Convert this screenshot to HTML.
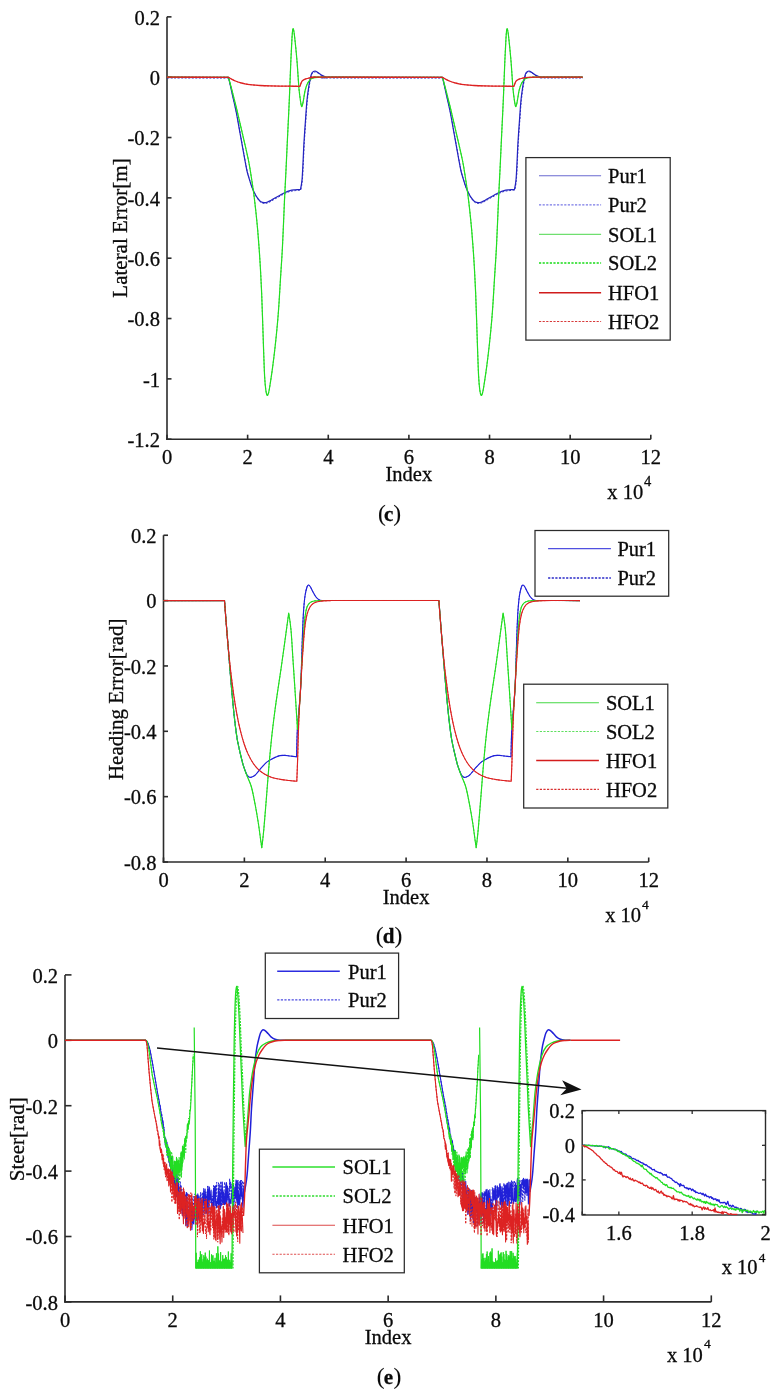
<!DOCTYPE html>
<html><head><meta charset="utf-8"><style>
html,body{margin:0;padding:0;background:#fff;}
svg{display:block;will-change:transform;}
text{font-family:"Liberation Serif", serif;fill:#0a0a0a;stroke:#0a0a0a;stroke-width:0.3px;}
</style></head><body>
<svg width="780" height="1400" viewBox="0 0 780 1400">
<rect width="780" height="1400" fill="#fff"/>
<line x1="167" y1="16.87" x2="167" y2="440" stroke="#2b2b2b" stroke-width="1.6" />
<line x1="166.2" y1="439.2" x2="650.8" y2="439.2" stroke="#2b2b2b" stroke-width="1.6" />
<line x1="167" y1="16.87" x2="171.5" y2="16.87" stroke="#2b2b2b" stroke-width="1.6" />
<text x="160" y="24.67" font-size="20.5" text-anchor="end" font-weight="normal" >0.2</text>
<line x1="167" y1="77.2" x2="171.5" y2="77.2" stroke="#2b2b2b" stroke-width="1.6" />
<text x="160" y="85" font-size="20.5" text-anchor="end" font-weight="normal" >0</text>
<line x1="167" y1="137.53" x2="171.5" y2="137.53" stroke="#2b2b2b" stroke-width="1.6" />
<text x="160" y="145.33" font-size="20.5" text-anchor="end" font-weight="normal" >-0.2</text>
<line x1="167" y1="197.87" x2="171.5" y2="197.87" stroke="#2b2b2b" stroke-width="1.6" />
<text x="160" y="205.67" font-size="20.5" text-anchor="end" font-weight="normal" >-0.4</text>
<line x1="167" y1="258.2" x2="171.5" y2="258.2" stroke="#2b2b2b" stroke-width="1.6" />
<text x="160" y="266" font-size="20.5" text-anchor="end" font-weight="normal" >-0.6</text>
<line x1="167" y1="318.54" x2="171.5" y2="318.54" stroke="#2b2b2b" stroke-width="1.6" />
<text x="160" y="326.34" font-size="20.5" text-anchor="end" font-weight="normal" >-0.8</text>
<line x1="167" y1="378.87" x2="171.5" y2="378.87" stroke="#2b2b2b" stroke-width="1.6" />
<text x="160" y="386.67" font-size="20.5" text-anchor="end" font-weight="normal" >-1</text>
<line x1="167" y1="439.2" x2="171.5" y2="439.2" stroke="#2b2b2b" stroke-width="1.6" />
<text x="160" y="447" font-size="20.5" text-anchor="end" font-weight="normal" >-1.2</text>
<line x1="167" y1="439.2" x2="167" y2="434.7" stroke="#2b2b2b" stroke-width="1.6" />
<text x="167" y="463.8" font-size="20.5" text-anchor="middle" font-weight="normal" >0</text>
<line x1="247.63" y1="439.2" x2="247.63" y2="434.7" stroke="#2b2b2b" stroke-width="1.6" />
<text x="247.63" y="463.8" font-size="20.5" text-anchor="middle" font-weight="normal" >2</text>
<line x1="328.27" y1="439.2" x2="328.27" y2="434.7" stroke="#2b2b2b" stroke-width="1.6" />
<text x="328.27" y="463.8" font-size="20.5" text-anchor="middle" font-weight="normal" >4</text>
<line x1="408.9" y1="439.2" x2="408.9" y2="434.7" stroke="#2b2b2b" stroke-width="1.6" />
<text x="408.9" y="463.8" font-size="20.5" text-anchor="middle" font-weight="normal" >6</text>
<line x1="489.53" y1="439.2" x2="489.53" y2="434.7" stroke="#2b2b2b" stroke-width="1.6" />
<text x="489.53" y="463.8" font-size="20.5" text-anchor="middle" font-weight="normal" >8</text>
<line x1="570.17" y1="439.2" x2="570.17" y2="434.7" stroke="#2b2b2b" stroke-width="1.6" />
<text x="570.17" y="463.8" font-size="20.5" text-anchor="middle" font-weight="normal" >10</text>
<line x1="650.8" y1="439.2" x2="650.8" y2="434.7" stroke="#2b2b2b" stroke-width="1.6" />
<text x="650.8" y="463.8" font-size="20.5" text-anchor="middle" font-weight="normal" >12</text>
<text transform="translate(126.5,228) rotate(-90)" font-size="21" text-anchor="middle">Lateral Error[m]</text>
<text x="408.9" y="480.8" font-size="20.5" text-anchor="middle" font-weight="normal" >Index</text>
<text x="643.2" y="498.5" font-size="20.5" text-anchor="end" font-weight="normal" >x 10</text>
<text x="644" y="486" font-size="14.5" text-anchor="start" font-weight="normal" >4</text>
<text x="377.9" y="520.8" font-size="23.5" text-anchor="start" font-weight="normal" style="stroke-width:0.1px">(</text>
<text x="384.05" y="520.8" font-size="21" text-anchor="start" font-weight="bold" >c</text>
<text x="393.3" y="520.8" font-size="23.5" text-anchor="start" font-weight="normal" style="stroke-width:0.1px">)</text>
<path d="M167,77.2 C177.25,77.22 228.5,77.3 228.5,77.3 C228.5,77.3 230.75,87.38 232,93 C233.25,98.62 234.67,104.33 236,111 C237.33,117.67 238.58,125.17 240,133 C241.42,140.83 243.33,151.67 244.5,158 C245.67,164.33 246.2,167.5 247,171 C247.8,174.5 248.55,176.5 249.3,179 C250.05,181.5 250.73,183.9 251.5,186 C252.27,188.1 253.15,189.97 253.9,191.6 C254.65,193.23 255.22,194.48 256,195.8 C256.78,197.12 257.77,198.5 258.6,199.5 C259.43,200.5 260.08,201.27 261,201.8 C261.92,202.33 263.1,202.63 264.1,202.7 C265.1,202.77 266.02,202.5 267,202.2 C267.98,201.9 268.83,201.52 270,200.9 C271.17,200.28 272.33,199.45 274,198.5 C275.67,197.55 278.17,196.2 280,195.2 C281.83,194.2 283.33,193.27 285,192.5 C286.67,191.73 288.33,191.05 290,190.6 C291.67,190.15 293.25,190.02 295,189.8 C296.75,189.58 300.5,189.3 300.5,189.3 C300.5,189.3 301.58,184.38 302,180 C302.42,175.62 302.67,169.33 303,163 C303.33,156.67 303.58,149.17 304,142 C304.42,134.83 305,127 305.5,120 C306,113 306.42,105.83 307,100 C307.58,94.17 308.42,88.75 309,85 C309.58,81.25 310,79.53 310.5,77.5 C311,75.47 311.25,73.88 312,72.8 C312.75,71.72 314,71.03 315,71 C316,70.97 316.83,71.88 318,72.6 C319.17,73.32 320.67,74.57 322,75.3 C323.33,76.03 324.67,76.68 326,77 C327.33,77.32 310.58,77.15 330,77.2 C349.42,77.25 442.5,77.3 442.5,77.3 C442.5,77.3 444.75,87.38 446,93 C447.25,98.62 448.67,104.33 450,111 C451.33,117.67 452.58,125.17 454,133 C455.42,140.83 457.33,151.67 458.5,158 C459.67,164.33 460.2,167.5 461,171 C461.8,174.5 462.55,176.5 463.3,179 C464.05,181.5 464.73,183.9 465.5,186 C466.27,188.1 467.15,189.97 467.9,191.6 C468.65,193.23 469.22,194.48 470,195.8 C470.78,197.12 471.77,198.5 472.6,199.5 C473.43,200.5 474.08,201.27 475,201.8 C475.92,202.33 477.1,202.63 478.1,202.7 C479.1,202.77 480.02,202.5 481,202.2 C481.98,201.9 482.83,201.52 484,200.9 C485.17,200.28 486.33,199.45 488,198.5 C489.67,197.55 492.17,196.2 494,195.2 C495.83,194.2 497.33,193.27 499,192.5 C500.67,191.73 502.33,191.05 504,190.6 C505.67,190.15 507.25,190.02 509,189.8 C510.75,189.58 514.5,189.3 514.5,189.3 C514.5,189.3 515.58,184.38 516,180 C516.42,175.62 516.67,169.33 517,163 C517.33,156.67 517.58,149.17 518,142 C518.42,134.83 519,127 519.5,120 C520,113 520.42,105.83 521,100 C521.58,94.17 522.42,88.75 523,85 C523.58,81.25 524,79.53 524.5,77.5 C525,75.47 525.25,73.88 526,72.8 C526.75,71.72 528,71.03 529,71 C530,70.97 530.83,71.88 532,72.6 C533.17,73.32 534.67,74.57 536,75.3 C537.33,76.03 538.67,76.68 540,77 C541.33,77.32 536.9,77.17 544,77.2 C551.1,77.23 576.17,77.2 582.6,77.2" fill="none" stroke="#2424c0" stroke-width="1.2" stroke-linejoin="round" />
<g transform="translate(0.3,0.8)">
<path d="M167,77.2 C177.25,77.22 228.5,77.3 228.5,77.3 C228.5,77.3 230.75,87.38 232,93 C233.25,98.62 234.67,104.33 236,111 C237.33,117.67 238.58,125.17 240,133 C241.42,140.83 243.33,151.67 244.5,158 C245.67,164.33 246.2,167.5 247,171 C247.8,174.5 248.55,176.5 249.3,179 C250.05,181.5 250.73,183.9 251.5,186 C252.27,188.1 253.15,189.97 253.9,191.6 C254.65,193.23 255.22,194.48 256,195.8 C256.78,197.12 257.77,198.5 258.6,199.5 C259.43,200.5 260.08,201.27 261,201.8 C261.92,202.33 263.1,202.63 264.1,202.7 C265.1,202.77 266.02,202.5 267,202.2 C267.98,201.9 268.83,201.52 270,200.9 C271.17,200.28 272.33,199.45 274,198.5 C275.67,197.55 278.17,196.2 280,195.2 C281.83,194.2 283.33,193.27 285,192.5 C286.67,191.73 288.33,191.05 290,190.6 C291.67,190.15 293.25,190.02 295,189.8 C296.75,189.58 300.5,189.3 300.5,189.3 C300.5,189.3 301.58,184.38 302,180 C302.42,175.62 302.67,169.33 303,163 C303.33,156.67 303.58,149.17 304,142 C304.42,134.83 305,127 305.5,120 C306,113 306.42,105.83 307,100 C307.58,94.17 308.42,88.75 309,85 C309.58,81.25 310,79.53 310.5,77.5 C311,75.47 311.25,73.88 312,72.8 C312.75,71.72 314,71.03 315,71 C316,70.97 316.83,71.88 318,72.6 C319.17,73.32 320.67,74.57 322,75.3 C323.33,76.03 324.67,76.68 326,77 C327.33,77.32 310.58,77.15 330,77.2 C349.42,77.25 442.5,77.3 442.5,77.3 C442.5,77.3 444.75,87.38 446,93 C447.25,98.62 448.67,104.33 450,111 C451.33,117.67 452.58,125.17 454,133 C455.42,140.83 457.33,151.67 458.5,158 C459.67,164.33 460.2,167.5 461,171 C461.8,174.5 462.55,176.5 463.3,179 C464.05,181.5 464.73,183.9 465.5,186 C466.27,188.1 467.15,189.97 467.9,191.6 C468.65,193.23 469.22,194.48 470,195.8 C470.78,197.12 471.77,198.5 472.6,199.5 C473.43,200.5 474.08,201.27 475,201.8 C475.92,202.33 477.1,202.63 478.1,202.7 C479.1,202.77 480.02,202.5 481,202.2 C481.98,201.9 482.83,201.52 484,200.9 C485.17,200.28 486.33,199.45 488,198.5 C489.67,197.55 492.17,196.2 494,195.2 C495.83,194.2 497.33,193.27 499,192.5 C500.67,191.73 502.33,191.05 504,190.6 C505.67,190.15 507.25,190.02 509,189.8 C510.75,189.58 514.5,189.3 514.5,189.3 C514.5,189.3 515.58,184.38 516,180 C516.42,175.62 516.67,169.33 517,163 C517.33,156.67 517.58,149.17 518,142 C518.42,134.83 519,127 519.5,120 C520,113 520.42,105.83 521,100 C521.58,94.17 522.42,88.75 523,85 C523.58,81.25 524,79.53 524.5,77.5 C525,75.47 525.25,73.88 526,72.8 C526.75,71.72 528,71.03 529,71 C530,70.97 530.83,71.88 532,72.6 C533.17,73.32 534.67,74.57 536,75.3 C537.33,76.03 538.67,76.68 540,77 C541.33,77.32 536.9,77.17 544,77.2 C551.1,77.23 576.17,77.2 582.6,77.2" fill="none" stroke="#2424c0" stroke-width="0.9" stroke-linejoin="round" stroke-dasharray="2,1.5" />
</g>
<path d="M167,77.2 C177.25,77.22 228.5,77.3 228.5,77.3 C228.5,77.3 231.1,87.05 232.5,92.5 C233.9,97.95 235.23,103.08 236.9,110 C238.57,116.92 240.58,125.67 242.5,134 C244.42,142.33 246.93,152.83 248.4,160 C249.87,167.17 250.4,171.33 251.3,177 C252.2,182.67 253.03,188.17 253.8,194 C254.57,199.83 255.27,206.17 255.9,212 C256.53,217.83 257.07,223 257.6,229 C258.13,235 258.63,241.5 259.1,248 C259.57,254.5 259.98,260.67 260.4,268 C260.82,275.33 261.23,283.33 261.6,292 C261.97,300.67 262.27,310.33 262.6,320 C262.93,329.67 263.27,340.67 263.6,350 C263.93,359.33 264.23,369.33 264.6,376 C264.97,382.67 265.38,386.78 265.8,390 C266.22,393.22 266.67,394.72 267.1,395.3 C267.53,395.88 267.97,394.88 268.4,393.5 C268.83,392.12 269.02,391.22 269.7,387 C270.38,382.78 271.57,375.2 272.5,368.2 C273.43,361.2 274.45,352.73 275.3,345 C276.15,337.27 276.98,328.77 277.6,321.8 C278.22,314.83 278.53,310.17 279,303.2 C279.47,296.23 279.82,289.53 280.4,280 C280.98,270.47 281.82,259.33 282.5,246 C283.18,232.67 283.92,212.67 284.5,200 C285.08,187.33 285.52,180 286,170 C286.48,160 286.85,151.67 287.4,140 C287.95,128.33 288.73,113 289.3,100 C289.87,87 290.35,72.33 290.8,62 C291.25,51.67 291.65,43.5 292,38 C292.35,32.5 292.57,30 292.9,29 C293.23,28 293.57,29.33 294,32 C294.43,34.67 295,40.17 295.5,45 C296,49.83 296.58,56 297,61 C297.42,66 297.67,70.33 298,75 C298.33,79.67 298.58,84.67 299,89 C299.42,93.33 300.07,98.08 300.5,101 C300.93,103.92 301.23,106 301.6,106.5 C301.97,107 302.33,105.42 302.7,104 C303.07,102.58 303.42,100.17 303.8,98 C304.18,95.83 304.47,93.25 305,91 C305.53,88.75 306.17,86.37 307,84.5 C307.83,82.63 309,80.88 310,79.8 C311,78.72 311.67,78.42 313,78 C314.33,77.58 316.17,77.43 318,77.3 C319.83,77.17 303.25,77.2 324,77.2 C344.75,77.2 442.5,77.3 442.5,77.3 C442.5,77.3 445.1,87.05 446.5,92.5 C447.9,97.95 449.23,103.08 450.9,110 C452.57,116.92 454.58,125.67 456.5,134 C458.42,142.33 460.93,152.83 462.4,160 C463.87,167.17 464.4,171.33 465.3,177 C466.2,182.67 467.03,188.17 467.8,194 C468.57,199.83 469.27,206.17 469.9,212 C470.53,217.83 471.07,223 471.6,229 C472.13,235 472.63,241.5 473.1,248 C473.57,254.5 473.98,260.67 474.4,268 C474.82,275.33 475.23,283.33 475.6,292 C475.97,300.67 476.27,310.33 476.6,320 C476.93,329.67 477.27,340.67 477.6,350 C477.93,359.33 478.23,369.33 478.6,376 C478.97,382.67 479.38,386.78 479.8,390 C480.22,393.22 480.67,394.72 481.1,395.3 C481.53,395.88 481.97,394.88 482.4,393.5 C482.83,392.12 483.02,391.22 483.7,387 C484.38,382.78 485.57,375.2 486.5,368.2 C487.43,361.2 488.45,352.73 489.3,345 C490.15,337.27 490.98,328.77 491.6,321.8 C492.22,314.83 492.53,310.17 493,303.2 C493.47,296.23 493.82,289.53 494.4,280 C494.98,270.47 495.82,259.33 496.5,246 C497.18,232.67 497.92,212.67 498.5,200 C499.08,187.33 499.52,180 500,170 C500.48,160 500.85,151.67 501.4,140 C501.95,128.33 502.73,113 503.3,100 C503.87,87 504.35,72.33 504.8,62 C505.25,51.67 505.65,43.5 506,38 C506.35,32.5 506.57,30 506.9,29 C507.23,28 507.57,29.33 508,32 C508.43,34.67 509,40.17 509.5,45 C510,49.83 510.58,56 511,61 C511.42,66 511.67,70.33 512,75 C512.33,79.67 512.58,84.67 513,89 C513.42,93.33 514.07,98.08 514.5,101 C514.93,103.92 515.23,106 515.6,106.5 C515.97,107 516.33,105.42 516.7,104 C517.07,102.58 517.42,100.17 517.8,98 C518.18,95.83 518.47,93.25 519,91 C519.53,88.75 520.17,86.37 521,84.5 C521.83,82.63 523,80.88 524,79.8 C525,78.72 525.67,78.42 527,78 C528.33,77.58 530.17,77.43 532,77.3 C533.83,77.17 529.57,77.22 538,77.2 C546.43,77.18 575.17,77.2 582.6,77.2" fill="none" stroke="#22dd22" stroke-width="1.2" stroke-linejoin="round" />
<path d="M167,77.2 C177.25,77.22 228.5,77.3 228.5,77.3 C228.5,77.3 231.1,87.05 232.5,92.5 C233.9,97.95 235.23,103.08 236.9,110 C238.57,116.92 240.58,125.67 242.5,134 C244.42,142.33 246.93,152.83 248.4,160 C249.87,167.17 250.4,171.33 251.3,177 C252.2,182.67 253.03,188.17 253.8,194 C254.57,199.83 255.27,206.17 255.9,212 C256.53,217.83 257.07,223 257.6,229 C258.13,235 258.63,241.5 259.1,248 C259.57,254.5 259.98,260.67 260.4,268 C260.82,275.33 261.23,283.33 261.6,292 C261.97,300.67 262.27,310.33 262.6,320 C262.93,329.67 263.27,340.67 263.6,350 C263.93,359.33 264.23,369.33 264.6,376 C264.97,382.67 265.38,386.78 265.8,390 C266.22,393.22 266.67,394.72 267.1,395.3 C267.53,395.88 267.97,394.88 268.4,393.5 C268.83,392.12 269.02,391.22 269.7,387 C270.38,382.78 271.57,375.2 272.5,368.2 C273.43,361.2 274.45,352.73 275.3,345 C276.15,337.27 276.98,328.77 277.6,321.8 C278.22,314.83 278.53,310.17 279,303.2 C279.47,296.23 279.82,289.53 280.4,280 C280.98,270.47 281.82,259.33 282.5,246 C283.18,232.67 283.92,212.67 284.5,200 C285.08,187.33 285.52,180 286,170 C286.48,160 286.85,151.67 287.4,140 C287.95,128.33 288.73,113 289.3,100 C289.87,87 290.35,72.33 290.8,62 C291.25,51.67 291.65,43.5 292,38 C292.35,32.5 292.57,30 292.9,29 C293.23,28 293.57,29.33 294,32 C294.43,34.67 295,40.17 295.5,45 C296,49.83 296.58,56 297,61 C297.42,66 297.67,70.33 298,75 C298.33,79.67 298.58,84.67 299,89 C299.42,93.33 300.07,98.08 300.5,101 C300.93,103.92 301.23,106 301.6,106.5 C301.97,107 302.33,105.42 302.7,104 C303.07,102.58 303.42,100.17 303.8,98 C304.18,95.83 304.47,93.25 305,91 C305.53,88.75 306.17,86.37 307,84.5 C307.83,82.63 309,80.88 310,79.8 C311,78.72 311.67,78.42 313,78 C314.33,77.58 316.17,77.43 318,77.3 C319.83,77.17 303.25,77.2 324,77.2 C344.75,77.2 442.5,77.3 442.5,77.3 C442.5,77.3 445.1,87.05 446.5,92.5 C447.9,97.95 449.23,103.08 450.9,110 C452.57,116.92 454.58,125.67 456.5,134 C458.42,142.33 460.93,152.83 462.4,160 C463.87,167.17 464.4,171.33 465.3,177 C466.2,182.67 467.03,188.17 467.8,194 C468.57,199.83 469.27,206.17 469.9,212 C470.53,217.83 471.07,223 471.6,229 C472.13,235 472.63,241.5 473.1,248 C473.57,254.5 473.98,260.67 474.4,268 C474.82,275.33 475.23,283.33 475.6,292 C475.97,300.67 476.27,310.33 476.6,320 C476.93,329.67 477.27,340.67 477.6,350 C477.93,359.33 478.23,369.33 478.6,376 C478.97,382.67 479.38,386.78 479.8,390 C480.22,393.22 480.67,394.72 481.1,395.3 C481.53,395.88 481.97,394.88 482.4,393.5 C482.83,392.12 483.02,391.22 483.7,387 C484.38,382.78 485.57,375.2 486.5,368.2 C487.43,361.2 488.45,352.73 489.3,345 C490.15,337.27 490.98,328.77 491.6,321.8 C492.22,314.83 492.53,310.17 493,303.2 C493.47,296.23 493.82,289.53 494.4,280 C494.98,270.47 495.82,259.33 496.5,246 C497.18,232.67 497.92,212.67 498.5,200 C499.08,187.33 499.52,180 500,170 C500.48,160 500.85,151.67 501.4,140 C501.95,128.33 502.73,113 503.3,100 C503.87,87 504.35,72.33 504.8,62 C505.25,51.67 505.65,43.5 506,38 C506.35,32.5 506.57,30 506.9,29 C507.23,28 507.57,29.33 508,32 C508.43,34.67 509,40.17 509.5,45 C510,49.83 510.58,56 511,61 C511.42,66 511.67,70.33 512,75 C512.33,79.67 512.58,84.67 513,89 C513.42,93.33 514.07,98.08 514.5,101 C514.93,103.92 515.23,106 515.6,106.5 C515.97,107 516.33,105.42 516.7,104 C517.07,102.58 517.42,100.17 517.8,98 C518.18,95.83 518.47,93.25 519,91 C519.53,88.75 520.17,86.37 521,84.5 C521.83,82.63 523,80.88 524,79.8 C525,78.72 525.67,78.42 527,78 C528.33,77.58 530.17,77.43 532,77.3 C533.83,77.17 529.57,77.22 538,77.2 C546.43,77.18 575.17,77.2 582.6,77.2" fill="none" stroke="#22dd22" stroke-width="0.9" stroke-linejoin="round" stroke-dasharray="2,1.5" />
<path d="M167,77.2 C177.25,77.22 228.5,77.3 228.5,77.3 C228.5,77.3 230.75,78.77 232,79.42 C233.25,80.08 234.67,80.72 236,81.25 C237.33,81.77 238.5,82.16 240,82.58 C241.5,83.01 243.33,83.44 245,83.77 C246.67,84.1 248.33,84.35 250,84.58 C251.67,84.8 253.33,84.97 255,85.13 C256.67,85.28 257.5,85.37 260,85.5 C262.5,85.64 266.67,85.83 270,85.93 C273.33,86.03 276.67,86.08 280,86.13 C283.33,86.18 286.67,86.19 290,86.22 C293.33,86.25 300,86.3 300,86.3 C300,86.3 301.17,82.38 302,81.2 C302.83,80.02 303.67,79.77 305,79.2 C306.33,78.63 308.33,78.11 310,77.8 C311.67,77.49 313,77.45 315,77.35 C317,77.25 300.75,77.21 322,77.2 C343.25,77.19 442.5,77.3 442.5,77.3 C442.5,77.3 444.75,78.77 446,79.42 C447.25,80.08 448.67,80.72 450,81.25 C451.33,81.77 452.5,82.16 454,82.58 C455.5,83.01 457.33,83.44 459,83.77 C460.67,84.1 462.33,84.35 464,84.58 C465.67,84.8 467.33,84.97 469,85.13 C470.67,85.28 471.5,85.37 474,85.5 C476.5,85.64 480.67,85.83 484,85.93 C487.33,86.03 490.67,86.08 494,86.13 C497.33,86.18 500.67,86.19 504,86.22 C507.33,86.25 514,86.3 514,86.3 C514,86.3 515.17,82.38 516,81.2 C516.83,80.02 517.67,79.77 519,79.2 C520.33,78.63 522.33,78.11 524,77.8 C525.67,77.49 527,77.45 529,77.35 C531,77.25 527.07,77.22 536,77.2 C544.93,77.18 574.83,77.2 582.6,77.2" fill="none" stroke="#dd2222" stroke-width="1.3" stroke-linejoin="round" />
<path d="M167,77.2 C177.25,77.22 228.5,77.3 228.5,77.3 C228.5,77.3 230.75,78.77 232,79.42 C233.25,80.08 234.67,80.72 236,81.25 C237.33,81.77 238.5,82.16 240,82.58 C241.5,83.01 243.33,83.44 245,83.77 C246.67,84.1 248.33,84.35 250,84.58 C251.67,84.8 253.33,84.97 255,85.13 C256.67,85.28 257.5,85.37 260,85.5 C262.5,85.64 266.67,85.83 270,85.93 C273.33,86.03 276.67,86.08 280,86.13 C283.33,86.18 286.67,86.19 290,86.22 C293.33,86.25 300,86.3 300,86.3 C300,86.3 301.17,82.38 302,81.2 C302.83,80.02 303.67,79.77 305,79.2 C306.33,78.63 308.33,78.11 310,77.8 C311.67,77.49 313,77.45 315,77.35 C317,77.25 300.75,77.21 322,77.2 C343.25,77.19 442.5,77.3 442.5,77.3 C442.5,77.3 444.75,78.77 446,79.42 C447.25,80.08 448.67,80.72 450,81.25 C451.33,81.77 452.5,82.16 454,82.58 C455.5,83.01 457.33,83.44 459,83.77 C460.67,84.1 462.33,84.35 464,84.58 C465.67,84.8 467.33,84.97 469,85.13 C470.67,85.28 471.5,85.37 474,85.5 C476.5,85.64 480.67,85.83 484,85.93 C487.33,86.03 490.67,86.08 494,86.13 C497.33,86.18 500.67,86.19 504,86.22 C507.33,86.25 514,86.3 514,86.3 C514,86.3 515.17,82.38 516,81.2 C516.83,80.02 517.67,79.77 519,79.2 C520.33,78.63 522.33,78.11 524,77.8 C525.67,77.49 527,77.45 529,77.35 C531,77.25 527.07,77.22 536,77.2 C544.93,77.18 574.83,77.2 582.6,77.2" fill="none" stroke="#dd2222" stroke-width="0.9" stroke-linejoin="round" stroke-dasharray="2,1.5" />
<rect x="525.9" y="157.6" width="144.3" height="182.5" fill="white" stroke="#2b2b2b" stroke-width="1.25"/>
<line x1="539" y1="175.7" x2="601.1" y2="175.7" stroke="#6a6ad0" stroke-width="1.1" />
<text x="608" y="183.1" font-size="20.5" text-anchor="start" font-weight="normal" >Pur1</text>
<line x1="539" y1="204.9" x2="601.1" y2="204.9" stroke="#7a7ae6" stroke-width="1.2" stroke-dasharray="2.2,1.4"/>
<text x="608" y="212.3" font-size="20.5" text-anchor="start" font-weight="normal" >Pur2</text>
<line x1="539" y1="234.3" x2="601.1" y2="234.3" stroke="#4cd84c" stroke-width="1.0" />
<text x="608" y="241.7" font-size="20.5" text-anchor="start" font-weight="normal" >SOL1</text>
<line x1="539" y1="262.9" x2="601.1" y2="262.9" stroke="#18dc18" stroke-width="1.5" stroke-dasharray="2.2,1.4"/>
<text x="608" y="270.3" font-size="20.5" text-anchor="start" font-weight="normal" >SOL2</text>
<line x1="539" y1="292.8" x2="601.1" y2="292.8" stroke="#d01c1c" stroke-width="1.4" />
<text x="608" y="300.2" font-size="20.5" text-anchor="start" font-weight="normal" >HFO1</text>
<line x1="539" y1="321.5" x2="601.1" y2="321.5" stroke="#d83a3a" stroke-width="1.2" stroke-dasharray="2.2,1.4"/>
<text x="608" y="328.9" font-size="20.5" text-anchor="start" font-weight="normal" >HFO2</text>
<line x1="163.5" y1="535.25" x2="163.5" y2="862.8" stroke="#2b2b2b" stroke-width="1.6" />
<line x1="162.7" y1="862" x2="648.7" y2="862" stroke="#2b2b2b" stroke-width="1.6" />
<line x1="163.5" y1="535.25" x2="168" y2="535.25" stroke="#2b2b2b" stroke-width="1.6" />
<text x="156.5" y="543.05" font-size="20.5" text-anchor="end" font-weight="normal" >0.2</text>
<line x1="163.5" y1="600.6" x2="168" y2="600.6" stroke="#2b2b2b" stroke-width="1.6" />
<text x="156.5" y="608.4" font-size="20.5" text-anchor="end" font-weight="normal" >0</text>
<line x1="163.5" y1="665.95" x2="168" y2="665.95" stroke="#2b2b2b" stroke-width="1.6" />
<text x="156.5" y="673.75" font-size="20.5" text-anchor="end" font-weight="normal" >-0.2</text>
<line x1="163.5" y1="731.3" x2="168" y2="731.3" stroke="#2b2b2b" stroke-width="1.6" />
<text x="156.5" y="739.1" font-size="20.5" text-anchor="end" font-weight="normal" >-0.4</text>
<line x1="163.5" y1="796.65" x2="168" y2="796.65" stroke="#2b2b2b" stroke-width="1.6" />
<text x="156.5" y="804.45" font-size="20.5" text-anchor="end" font-weight="normal" >-0.6</text>
<line x1="163.5" y1="862" x2="168" y2="862" stroke="#2b2b2b" stroke-width="1.6" />
<text x="156.5" y="869.8" font-size="20.5" text-anchor="end" font-weight="normal" >-0.8</text>
<line x1="163.5" y1="862" x2="163.5" y2="857.5" stroke="#2b2b2b" stroke-width="1.6" />
<text x="163.5" y="887.1" font-size="20.5" text-anchor="middle" font-weight="normal" >0</text>
<line x1="244.37" y1="862" x2="244.37" y2="857.5" stroke="#2b2b2b" stroke-width="1.6" />
<text x="244.37" y="887.1" font-size="20.5" text-anchor="middle" font-weight="normal" >2</text>
<line x1="325.23" y1="862" x2="325.23" y2="857.5" stroke="#2b2b2b" stroke-width="1.6" />
<text x="325.23" y="887.1" font-size="20.5" text-anchor="middle" font-weight="normal" >4</text>
<line x1="406.1" y1="862" x2="406.1" y2="857.5" stroke="#2b2b2b" stroke-width="1.6" />
<text x="406.1" y="887.1" font-size="20.5" text-anchor="middle" font-weight="normal" >6</text>
<line x1="486.97" y1="862" x2="486.97" y2="857.5" stroke="#2b2b2b" stroke-width="1.6" />
<text x="486.97" y="887.1" font-size="20.5" text-anchor="middle" font-weight="normal" >8</text>
<line x1="567.83" y1="862" x2="567.83" y2="857.5" stroke="#2b2b2b" stroke-width="1.6" />
<text x="567.83" y="887.1" font-size="20.5" text-anchor="middle" font-weight="normal" >10</text>
<line x1="648.7" y1="862" x2="648.7" y2="857.5" stroke="#2b2b2b" stroke-width="1.6" />
<text x="648.7" y="887.1" font-size="20.5" text-anchor="middle" font-weight="normal" >12</text>
<text transform="translate(122.5,699.3) rotate(-90)" font-size="21" text-anchor="middle">Heading Error[rad]</text>
<text x="406.1" y="903.5" font-size="20.5" text-anchor="middle" font-weight="normal" >Index</text>
<text x="641" y="921.9" font-size="20.5" text-anchor="end" font-weight="normal" >x 10</text>
<text x="642" y="908.6" font-size="13.5" text-anchor="start" font-weight="normal" >4</text>
<text x="375.8" y="943.3" font-size="23.5" text-anchor="start" font-weight="normal" style="stroke-width:0.1px">(</text>
<text x="382.75" y="943.3" font-size="21" text-anchor="start" font-weight="bold" >d</text>
<text x="394.6" y="943.3" font-size="23.5" text-anchor="start" font-weight="normal" style="stroke-width:0.1px">)</text>
<path d="M163.5,600.6 C173.67,600.58 224.5,600.5 224.5,600.5 C224.5,600.5 225.42,612.58 226,620 C226.58,627.42 227.33,636.67 228,645 C228.67,653.33 229.38,662.5 230,670 C230.62,677.5 231.17,684 231.7,690 C232.23,696 232.7,700.95 233.2,706 C233.7,711.05 234.05,714.88 234.7,720.3 C235.35,725.72 236.18,733.03 237.1,738.5 C238.02,743.97 239.18,748.65 240.2,753.1 C241.22,757.55 242.2,761.85 243.2,765.2 C244.2,768.55 245.4,771.37 246.2,773.2 C247,775.03 247.37,775.5 248,776.2 C248.63,776.9 249.25,777.3 250,777.4 C250.75,777.5 251.62,777.2 252.5,776.8 C253.38,776.4 254.38,775.83 255.3,775 C256.22,774.17 256.98,773.02 258,771.8 C259.02,770.58 260.32,768.95 261.4,767.7 C262.48,766.45 263.48,765.32 264.5,764.3 C265.52,763.28 266.33,762.45 267.5,761.6 C268.67,760.75 270.25,759.9 271.5,759.2 C272.75,758.5 273.58,758 275,757.4 C276.42,756.8 278.33,755.93 280,755.6 C281.67,755.27 283.33,755.33 285,755.4 C286.67,755.47 288.07,755.77 290,756 C291.93,756.23 296.6,756.8 296.6,756.8 C296.6,756.8 296.98,737.97 297.3,731 C297.62,724.03 298.08,720.17 298.5,715 C298.92,709.83 299.42,705 299.8,700 C300.18,695 300.5,691.33 300.8,685 C301.1,678.67 301.32,670.5 301.6,662 C301.88,653.5 302.18,642.33 302.5,634 C302.82,625.67 303.08,618.33 303.5,612 C303.92,605.67 304.42,600.17 305,596 C305.58,591.83 306.4,588.83 307,587 C307.6,585.17 308.02,585 308.6,585 C309.18,585 309.77,585.83 310.5,587 C311.23,588.17 312.08,590.33 313,592 C313.92,593.67 315,595.7 316,597 C317,598.3 318,599.22 319,599.8 C320,600.38 320.17,600.38 322,600.5 C323.83,600.62 310.52,600.5 330,600.5 C349.48,600.5 438.9,600.5 438.9,600.5 C438.9,600.5 439.82,612.58 440.4,620 C440.98,627.42 441.73,636.67 442.4,645 C443.07,653.33 443.78,662.5 444.4,670 C445.02,677.5 445.57,684 446.1,690 C446.63,696 447.1,700.95 447.6,706 C448.1,711.05 448.45,714.88 449.1,720.3 C449.75,725.72 450.58,733.03 451.5,738.5 C452.42,743.97 453.58,748.65 454.6,753.1 C455.62,757.55 456.6,761.85 457.6,765.2 C458.6,768.55 459.8,771.37 460.6,773.2 C461.4,775.03 461.77,775.5 462.4,776.2 C463.03,776.9 463.65,777.3 464.4,777.4 C465.15,777.5 466.02,777.2 466.9,776.8 C467.78,776.4 468.78,775.83 469.7,775 C470.62,774.17 471.38,773.02 472.4,771.8 C473.42,770.58 474.72,768.95 475.8,767.7 C476.88,766.45 477.88,765.32 478.9,764.3 C479.92,763.28 480.73,762.45 481.9,761.6 C483.07,760.75 484.65,759.9 485.9,759.2 C487.15,758.5 487.98,758 489.4,757.4 C490.82,756.8 492.73,755.93 494.4,755.6 C496.07,755.27 497.73,755.33 499.4,755.4 C501.07,755.47 502.47,755.77 504.4,756 C506.33,756.23 511,756.8 511,756.8 C511,756.8 511.38,737.97 511.7,731 C512.02,724.03 512.48,720.17 512.9,715 C513.32,709.83 513.82,705 514.2,700 C514.58,695 514.9,691.33 515.2,685 C515.5,678.67 515.72,670.5 516,662 C516.28,653.5 516.58,642.33 516.9,634 C517.22,625.67 517.48,618.33 517.9,612 C518.32,605.67 518.82,600.17 519.4,596 C519.98,591.83 520.8,588.83 521.4,587 C522,585.17 522.42,585 523,585 C523.58,585 524.17,585.83 524.9,587 C525.63,588.17 526.48,590.33 527.4,592 C528.32,593.67 529.4,595.7 530.4,597 C531.4,598.3 532.4,599.22 533.4,599.8 C534.4,600.38 534.57,600.38 536.4,600.5 C538.23,600.62 537.13,600.48 544.4,600.5 C551.67,600.52 574.07,600.58 580,600.6" fill="none" stroke="#2020d8" stroke-width="1.15" stroke-linejoin="round" />
<path d="M163.5,600.6 C173.67,600.58 224.5,600.5 224.5,600.5 C224.5,600.5 225.42,612.58 226,620 C226.58,627.42 227.33,636.67 228,645 C228.67,653.33 229.38,662.5 230,670 C230.62,677.5 231.17,684 231.7,690 C232.23,696 232.7,700.95 233.2,706 C233.7,711.05 234.05,714.88 234.7,720.3 C235.35,725.72 236.18,733.03 237.1,738.5 C238.02,743.97 239.18,748.65 240.2,753.1 C241.22,757.55 242.2,761.85 243.2,765.2 C244.2,768.55 245.4,771.37 246.2,773.2 C247,775.03 247.37,775.5 248,776.2 C248.63,776.9 249.25,777.3 250,777.4 C250.75,777.5 251.62,777.2 252.5,776.8 C253.38,776.4 254.38,775.83 255.3,775 C256.22,774.17 256.98,773.02 258,771.8 C259.02,770.58 260.32,768.95 261.4,767.7 C262.48,766.45 263.48,765.32 264.5,764.3 C265.52,763.28 266.33,762.45 267.5,761.6 C268.67,760.75 270.25,759.9 271.5,759.2 C272.75,758.5 273.58,758 275,757.4 C276.42,756.8 278.33,755.93 280,755.6 C281.67,755.27 283.33,755.33 285,755.4 C286.67,755.47 288.07,755.77 290,756 C291.93,756.23 296.6,756.8 296.6,756.8 C296.6,756.8 296.98,737.97 297.3,731 C297.62,724.03 298.08,720.17 298.5,715 C298.92,709.83 299.42,705 299.8,700 C300.18,695 300.5,691.33 300.8,685 C301.1,678.67 301.32,670.5 301.6,662 C301.88,653.5 302.18,642.33 302.5,634 C302.82,625.67 303.08,618.33 303.5,612 C303.92,605.67 304.42,600.17 305,596 C305.58,591.83 306.4,588.83 307,587 C307.6,585.17 308.02,585 308.6,585 C309.18,585 309.77,585.83 310.5,587 C311.23,588.17 312.08,590.33 313,592 C313.92,593.67 315,595.7 316,597 C317,598.3 318,599.22 319,599.8 C320,600.38 320.17,600.38 322,600.5 C323.83,600.62 310.52,600.5 330,600.5 C349.48,600.5 438.9,600.5 438.9,600.5 C438.9,600.5 439.82,612.58 440.4,620 C440.98,627.42 441.73,636.67 442.4,645 C443.07,653.33 443.78,662.5 444.4,670 C445.02,677.5 445.57,684 446.1,690 C446.63,696 447.1,700.95 447.6,706 C448.1,711.05 448.45,714.88 449.1,720.3 C449.75,725.72 450.58,733.03 451.5,738.5 C452.42,743.97 453.58,748.65 454.6,753.1 C455.62,757.55 456.6,761.85 457.6,765.2 C458.6,768.55 459.8,771.37 460.6,773.2 C461.4,775.03 461.77,775.5 462.4,776.2 C463.03,776.9 463.65,777.3 464.4,777.4 C465.15,777.5 466.02,777.2 466.9,776.8 C467.78,776.4 468.78,775.83 469.7,775 C470.62,774.17 471.38,773.02 472.4,771.8 C473.42,770.58 474.72,768.95 475.8,767.7 C476.88,766.45 477.88,765.32 478.9,764.3 C479.92,763.28 480.73,762.45 481.9,761.6 C483.07,760.75 484.65,759.9 485.9,759.2 C487.15,758.5 487.98,758 489.4,757.4 C490.82,756.8 492.73,755.93 494.4,755.6 C496.07,755.27 497.73,755.33 499.4,755.4 C501.07,755.47 502.47,755.77 504.4,756 C506.33,756.23 511,756.8 511,756.8 C511,756.8 511.38,737.97 511.7,731 C512.02,724.03 512.48,720.17 512.9,715 C513.32,709.83 513.82,705 514.2,700 C514.58,695 514.9,691.33 515.2,685 C515.5,678.67 515.72,670.5 516,662 C516.28,653.5 516.58,642.33 516.9,634 C517.22,625.67 517.48,618.33 517.9,612 C518.32,605.67 518.82,600.17 519.4,596 C519.98,591.83 520.8,588.83 521.4,587 C522,585.17 522.42,585 523,585 C523.58,585 524.17,585.83 524.9,587 C525.63,588.17 526.48,590.33 527.4,592 C528.32,593.67 529.4,595.7 530.4,597 C531.4,598.3 532.4,599.22 533.4,599.8 C534.4,600.38 534.57,600.38 536.4,600.5 C538.23,600.62 537.13,600.48 544.4,600.5 C551.67,600.52 574.07,600.58 580,600.6" fill="none" stroke="#2020d8" stroke-width="0.9" stroke-linejoin="round" stroke-dasharray="2,1.5" />
<path d="M163.5,600.6 C173.67,600.58 224.5,600.5 224.5,600.5 C224.5,600.5 225.42,612.58 226,620 C226.58,627.42 227.33,636.67 228,645 C228.67,653.33 229.38,662.5 230,670 C230.62,677.5 231.17,684 231.7,690 C232.23,696 232.7,700.95 233.2,706 C233.7,711.05 234.05,714.88 234.7,720.3 C235.35,725.72 236.18,733.03 237.1,738.5 C238.02,743.97 239.18,748.65 240.2,753.1 C241.22,757.55 242.2,761.73 243.2,765.2 C244.2,768.67 245.23,771.35 246.2,773.9 C247.17,776.45 248.08,778.15 249,780.5 C249.92,782.85 250.65,783.87 251.7,788 C252.75,792.13 254.18,799.38 255.3,805.3 C256.42,811.22 257.48,817.55 258.4,823.5 C259.32,829.45 260.23,836.95 260.8,841 C261.37,845.05 261.8,847.8 261.8,847.8 C261.8,847.8 263.05,837.7 263.8,829.6 C264.55,821.5 265.48,809.32 266.3,799.2 C267.12,789.08 267.8,779.27 268.7,768.9 C269.6,758.53 270.65,746.82 271.7,737 C272.75,727.18 273.95,718 275,710 C276.05,702 277,695.83 278,689 C279,682.17 279.92,676.5 281,669 C282.08,661.5 283.22,653.33 284.5,644 C285.78,634.67 288.7,613 288.7,613 C288.7,613 290.28,622.17 291,630 C291.72,637.83 292.33,650 293,660 C293.67,670 294.25,678.42 295,690 C295.75,701.58 297.5,729.5 297.5,729.5 C297.5,729.5 298.5,718.58 299,712 C299.5,705.42 300,698.67 300.5,690 C301,681.33 301.5,669.17 302,660 C302.5,650.83 303,642.17 303.5,635 C304,627.83 304.42,621.67 305,617 C305.58,612.33 306.17,609.4 307,607 C307.83,604.6 308.83,603.6 310,602.6 C311.17,601.6 312.33,601.33 314,601 C315.67,600.67 317.33,600.68 320,600.6 C322.67,600.52 310.18,600.52 330,600.5 C349.82,600.48 438.9,600.5 438.9,600.5 C438.9,600.5 439.82,612.58 440.4,620 C440.98,627.42 441.73,636.67 442.4,645 C443.07,653.33 443.78,662.5 444.4,670 C445.02,677.5 445.57,684 446.1,690 C446.63,696 447.1,700.95 447.6,706 C448.1,711.05 448.45,714.88 449.1,720.3 C449.75,725.72 450.58,733.03 451.5,738.5 C452.42,743.97 453.58,748.65 454.6,753.1 C455.62,757.55 456.6,761.73 457.6,765.2 C458.6,768.67 459.63,771.35 460.6,773.9 C461.57,776.45 462.48,778.15 463.4,780.5 C464.32,782.85 465.05,783.87 466.1,788 C467.15,792.13 468.58,799.38 469.7,805.3 C470.82,811.22 471.88,817.55 472.8,823.5 C473.72,829.45 474.63,836.95 475.2,841 C475.77,845.05 476.2,847.8 476.2,847.8 C476.2,847.8 477.45,837.7 478.2,829.6 C478.95,821.5 479.88,809.32 480.7,799.2 C481.52,789.08 482.2,779.27 483.1,768.9 C484,758.53 485.05,746.82 486.1,737 C487.15,727.18 488.35,718 489.4,710 C490.45,702 491.4,695.83 492.4,689 C493.4,682.17 494.32,676.5 495.4,669 C496.48,661.5 497.62,653.33 498.9,644 C500.18,634.67 503.1,613 503.1,613 C503.1,613 504.68,622.17 505.4,630 C506.12,637.83 506.73,650 507.4,660 C508.07,670 508.65,678.42 509.4,690 C510.15,701.58 511.9,729.5 511.9,729.5 C511.9,729.5 512.9,718.58 513.4,712 C513.9,705.42 514.4,698.67 514.9,690 C515.4,681.33 515.9,669.17 516.4,660 C516.9,650.83 517.4,642.17 517.9,635 C518.4,627.83 518.82,621.67 519.4,617 C519.98,612.33 520.57,609.4 521.4,607 C522.23,604.6 523.23,603.6 524.4,602.6 C525.57,601.6 526.73,601.33 528.4,601 C530.07,600.67 531.73,600.68 534.4,600.6 C537.07,600.52 536.8,600.5 544.4,600.5 C552,600.5 574.07,600.58 580,600.6" fill="none" stroke="#22dd22" stroke-width="1.15" stroke-linejoin="round" />
<path d="M163.5,600.6 C173.67,600.58 224.5,600.5 224.5,600.5 C224.5,600.5 225.42,612.58 226,620 C226.58,627.42 227.33,636.67 228,645 C228.67,653.33 229.38,662.5 230,670 C230.62,677.5 231.17,684 231.7,690 C232.23,696 232.7,700.95 233.2,706 C233.7,711.05 234.05,714.88 234.7,720.3 C235.35,725.72 236.18,733.03 237.1,738.5 C238.02,743.97 239.18,748.65 240.2,753.1 C241.22,757.55 242.2,761.73 243.2,765.2 C244.2,768.67 245.23,771.35 246.2,773.9 C247.17,776.45 248.08,778.15 249,780.5 C249.92,782.85 250.65,783.87 251.7,788 C252.75,792.13 254.18,799.38 255.3,805.3 C256.42,811.22 257.48,817.55 258.4,823.5 C259.32,829.45 260.23,836.95 260.8,841 C261.37,845.05 261.8,847.8 261.8,847.8 C261.8,847.8 263.05,837.7 263.8,829.6 C264.55,821.5 265.48,809.32 266.3,799.2 C267.12,789.08 267.8,779.27 268.7,768.9 C269.6,758.53 270.65,746.82 271.7,737 C272.75,727.18 273.95,718 275,710 C276.05,702 277,695.83 278,689 C279,682.17 279.92,676.5 281,669 C282.08,661.5 283.22,653.33 284.5,644 C285.78,634.67 288.7,613 288.7,613 C288.7,613 290.28,622.17 291,630 C291.72,637.83 292.33,650 293,660 C293.67,670 294.25,678.42 295,690 C295.75,701.58 297.5,729.5 297.5,729.5 C297.5,729.5 298.5,718.58 299,712 C299.5,705.42 300,698.67 300.5,690 C301,681.33 301.5,669.17 302,660 C302.5,650.83 303,642.17 303.5,635 C304,627.83 304.42,621.67 305,617 C305.58,612.33 306.17,609.4 307,607 C307.83,604.6 308.83,603.6 310,602.6 C311.17,601.6 312.33,601.33 314,601 C315.67,600.67 317.33,600.68 320,600.6 C322.67,600.52 310.18,600.52 330,600.5 C349.82,600.48 438.9,600.5 438.9,600.5 C438.9,600.5 439.82,612.58 440.4,620 C440.98,627.42 441.73,636.67 442.4,645 C443.07,653.33 443.78,662.5 444.4,670 C445.02,677.5 445.57,684 446.1,690 C446.63,696 447.1,700.95 447.6,706 C448.1,711.05 448.45,714.88 449.1,720.3 C449.75,725.72 450.58,733.03 451.5,738.5 C452.42,743.97 453.58,748.65 454.6,753.1 C455.62,757.55 456.6,761.73 457.6,765.2 C458.6,768.67 459.63,771.35 460.6,773.9 C461.57,776.45 462.48,778.15 463.4,780.5 C464.32,782.85 465.05,783.87 466.1,788 C467.15,792.13 468.58,799.38 469.7,805.3 C470.82,811.22 471.88,817.55 472.8,823.5 C473.72,829.45 474.63,836.95 475.2,841 C475.77,845.05 476.2,847.8 476.2,847.8 C476.2,847.8 477.45,837.7 478.2,829.6 C478.95,821.5 479.88,809.32 480.7,799.2 C481.52,789.08 482.2,779.27 483.1,768.9 C484,758.53 485.05,746.82 486.1,737 C487.15,727.18 488.35,718 489.4,710 C490.45,702 491.4,695.83 492.4,689 C493.4,682.17 494.32,676.5 495.4,669 C496.48,661.5 497.62,653.33 498.9,644 C500.18,634.67 503.1,613 503.1,613 C503.1,613 504.68,622.17 505.4,630 C506.12,637.83 506.73,650 507.4,660 C508.07,670 508.65,678.42 509.4,690 C510.15,701.58 511.9,729.5 511.9,729.5 C511.9,729.5 512.9,718.58 513.4,712 C513.9,705.42 514.4,698.67 514.9,690 C515.4,681.33 515.9,669.17 516.4,660 C516.9,650.83 517.4,642.17 517.9,635 C518.4,627.83 518.82,621.67 519.4,617 C519.98,612.33 520.57,609.4 521.4,607 C522.23,604.6 523.23,603.6 524.4,602.6 C525.57,601.6 526.73,601.33 528.4,601 C530.07,600.67 531.73,600.68 534.4,600.6 C537.07,600.52 536.8,600.5 544.4,600.5 C552,600.5 574.07,600.58 580,600.6" fill="none" stroke="#22dd22" stroke-width="0.9" stroke-linejoin="round" stroke-dasharray="2,1.5" />
<path d="M163.5,600.6 C173.67,600.58 224.5,600.5 224.5,600.5 C224.5,600.5 225.08,608.95 225.5,614.42 C225.92,619.88 226.42,626.51 227,633.31 C227.58,640.11 228.33,648.46 229,655.22 C229.67,661.98 230.17,666.95 231,673.89 C231.83,680.83 233,690.02 234,696.85 C235,703.69 236,709.54 237,714.91 C238,720.29 238.83,724.36 240,729.12 C241.17,733.88 242.67,739.34 244,743.47 C245.33,747.59 246.5,750.63 248,753.88 C249.5,757.13 251.33,760.45 253,762.99 C254.67,765.52 256.17,767.28 258,769.09 C259.83,770.9 262,772.54 264,773.82 C266,775.1 268,775.96 270,776.75 C272,777.54 274,778.07 276,778.56 C278,779.05 279.83,779.36 282,779.68 C284.17,780 286.53,780.19 289,780.46 C291.47,780.73 296.8,781.3 296.8,781.3 C296.8,781.3 297.35,767.72 297.6,760 C297.85,752.28 298.03,743 298.3,735 C298.57,727 298.83,719.5 299.2,712 C299.57,704.5 300.03,698 300.5,690 C300.97,682 301.5,672 302,664 C302.5,656 303,648.33 303.5,642 C304,635.67 304.42,630.58 305,626 C305.58,621.42 306.17,617.67 307,614.5 C307.83,611.33 308.83,608.92 310,607 C311.17,605.08 312.33,603.97 314,603 C315.67,602.03 317.33,601.6 320,601.2 C322.67,600.8 326.67,600.72 330,600.6 C333.33,600.48 321.85,600.52 340,600.5 C358.15,600.48 438.9,600.5 438.9,600.5 C438.9,600.5 439.48,608.95 439.9,614.42 C440.32,619.88 440.82,626.51 441.4,633.31 C441.98,640.11 442.73,648.46 443.4,655.22 C444.07,661.98 444.57,666.95 445.4,673.89 C446.23,680.83 447.4,690.02 448.4,696.85 C449.4,703.69 450.4,709.54 451.4,714.91 C452.4,720.29 453.23,724.36 454.4,729.12 C455.57,733.88 457.07,739.34 458.4,743.47 C459.73,747.59 460.9,750.63 462.4,753.88 C463.9,757.13 465.73,760.45 467.4,762.99 C469.07,765.52 470.57,767.28 472.4,769.09 C474.23,770.9 476.4,772.54 478.4,773.82 C480.4,775.1 482.4,775.96 484.4,776.75 C486.4,777.54 488.4,778.07 490.4,778.56 C492.4,779.05 494.23,779.36 496.4,779.68 C498.57,780 500.93,780.19 503.4,780.46 C505.87,780.73 511.2,781.3 511.2,781.3 C511.2,781.3 511.75,767.72 512,760 C512.25,752.28 512.43,743 512.7,735 C512.97,727 513.23,719.5 513.6,712 C513.97,704.5 514.43,698 514.9,690 C515.37,682 515.9,672 516.4,664 C516.9,656 517.4,648.33 517.9,642 C518.4,635.67 518.82,630.58 519.4,626 C519.98,621.42 520.57,617.67 521.4,614.5 C522.23,611.33 523.23,608.92 524.4,607 C525.57,605.08 526.73,603.97 528.4,603 C530.07,602.03 531.73,601.6 534.4,601.2 C537.07,600.8 541.07,600.72 544.4,600.6 C547.73,600.48 548.47,600.5 554.4,600.5 C560.33,600.5 575.73,600.58 580,600.6" fill="none" stroke="#dd2222" stroke-width="1.15" stroke-linejoin="round" />
<path d="M163.5,600.6 C173.67,600.58 224.5,600.5 224.5,600.5 C224.5,600.5 225.08,608.95 225.5,614.42 C225.92,619.88 226.42,626.51 227,633.31 C227.58,640.11 228.33,648.46 229,655.22 C229.67,661.98 230.17,666.95 231,673.89 C231.83,680.83 233,690.02 234,696.85 C235,703.69 236,709.54 237,714.91 C238,720.29 238.83,724.36 240,729.12 C241.17,733.88 242.67,739.34 244,743.47 C245.33,747.59 246.5,750.63 248,753.88 C249.5,757.13 251.33,760.45 253,762.99 C254.67,765.52 256.17,767.28 258,769.09 C259.83,770.9 262,772.54 264,773.82 C266,775.1 268,775.96 270,776.75 C272,777.54 274,778.07 276,778.56 C278,779.05 279.83,779.36 282,779.68 C284.17,780 286.53,780.19 289,780.46 C291.47,780.73 296.8,781.3 296.8,781.3 C296.8,781.3 297.35,767.72 297.6,760 C297.85,752.28 298.03,743 298.3,735 C298.57,727 298.83,719.5 299.2,712 C299.57,704.5 300.03,698 300.5,690 C300.97,682 301.5,672 302,664 C302.5,656 303,648.33 303.5,642 C304,635.67 304.42,630.58 305,626 C305.58,621.42 306.17,617.67 307,614.5 C307.83,611.33 308.83,608.92 310,607 C311.17,605.08 312.33,603.97 314,603 C315.67,602.03 317.33,601.6 320,601.2 C322.67,600.8 326.67,600.72 330,600.6 C333.33,600.48 321.85,600.52 340,600.5 C358.15,600.48 438.9,600.5 438.9,600.5 C438.9,600.5 439.48,608.95 439.9,614.42 C440.32,619.88 440.82,626.51 441.4,633.31 C441.98,640.11 442.73,648.46 443.4,655.22 C444.07,661.98 444.57,666.95 445.4,673.89 C446.23,680.83 447.4,690.02 448.4,696.85 C449.4,703.69 450.4,709.54 451.4,714.91 C452.4,720.29 453.23,724.36 454.4,729.12 C455.57,733.88 457.07,739.34 458.4,743.47 C459.73,747.59 460.9,750.63 462.4,753.88 C463.9,757.13 465.73,760.45 467.4,762.99 C469.07,765.52 470.57,767.28 472.4,769.09 C474.23,770.9 476.4,772.54 478.4,773.82 C480.4,775.1 482.4,775.96 484.4,776.75 C486.4,777.54 488.4,778.07 490.4,778.56 C492.4,779.05 494.23,779.36 496.4,779.68 C498.57,780 500.93,780.19 503.4,780.46 C505.87,780.73 511.2,781.3 511.2,781.3 C511.2,781.3 511.75,767.72 512,760 C512.25,752.28 512.43,743 512.7,735 C512.97,727 513.23,719.5 513.6,712 C513.97,704.5 514.43,698 514.9,690 C515.37,682 515.9,672 516.4,664 C516.9,656 517.4,648.33 517.9,642 C518.4,635.67 518.82,630.58 519.4,626 C519.98,621.42 520.57,617.67 521.4,614.5 C522.23,611.33 523.23,608.92 524.4,607 C525.57,605.08 526.73,603.97 528.4,603 C530.07,602.03 531.73,601.6 534.4,601.2 C537.07,600.8 541.07,600.72 544.4,600.6 C547.73,600.48 548.47,600.5 554.4,600.5 C560.33,600.5 575.73,600.58 580,600.6" fill="none" stroke="#dd2222" stroke-width="0.9" stroke-linejoin="round" stroke-dasharray="2,1.5" />
<rect x="535" y="530.5" width="133.7" height="65.7" fill="white" stroke="#2b2b2b" stroke-width="1.25"/>
<line x1="548.1" y1="548.6" x2="610.9" y2="548.6" stroke="#5050e0" stroke-width="1.2" />
<text x="617.4" y="556" font-size="20.5" text-anchor="start" font-weight="normal" >Pur1</text>
<line x1="548.1" y1="577.9" x2="610.9" y2="577.9" stroke="#2a2ac8" stroke-width="1.5" stroke-dasharray="2.2,1.4"/>
<text x="617.4" y="585.3" font-size="20.5" text-anchor="start" font-weight="normal" >Pur2</text>
<rect x="523.7" y="684.2" width="144.1" height="123.8" fill="white" stroke="#2b2b2b" stroke-width="1.25"/>
<line x1="536.2" y1="702.7" x2="598.9" y2="702.7" stroke="#44d844" stroke-width="1.1" />
<text x="605.9" y="710.1" font-size="20.5" text-anchor="start" font-weight="normal" >SOL1</text>
<line x1="536.2" y1="731.5" x2="598.9" y2="731.5" stroke="#60e060" stroke-width="1.1" stroke-dasharray="2.2,1.4"/>
<text x="605.9" y="738.9" font-size="20.5" text-anchor="start" font-weight="normal" >SOL2</text>
<line x1="536.2" y1="760.5" x2="598.9" y2="760.5" stroke="#d41c1c" stroke-width="1.3" />
<text x="605.9" y="767.9" font-size="20.5" text-anchor="start" font-weight="normal" >HFO1</text>
<line x1="536.2" y1="789.4" x2="598.9" y2="789.4" stroke="#d83030" stroke-width="1.3" stroke-dasharray="2.2,1.4"/>
<text x="605.9" y="796.8" font-size="20.5" text-anchor="start" font-weight="normal" >HFO2</text>
<line x1="65" y1="974.9" x2="65" y2="1302.7" stroke="#2b2b2b" stroke-width="1.6" />
<line x1="64.2" y1="1301.9" x2="711.3" y2="1301.9" stroke="#2b2b2b" stroke-width="1.6" />
<line x1="65" y1="974.9" x2="71.5" y2="974.9" stroke="#2b2b2b" stroke-width="1.6" />
<text x="58" y="982.7" font-size="20.5" text-anchor="end" font-weight="normal" >0.2</text>
<line x1="65" y1="1040.3" x2="71.5" y2="1040.3" stroke="#2b2b2b" stroke-width="1.6" />
<text x="58" y="1048.1" font-size="20.5" text-anchor="end" font-weight="normal" >0</text>
<line x1="65" y1="1105.7" x2="71.5" y2="1105.7" stroke="#2b2b2b" stroke-width="1.6" />
<text x="58" y="1113.5" font-size="20.5" text-anchor="end" font-weight="normal" >-0.2</text>
<line x1="65" y1="1171.1" x2="71.5" y2="1171.1" stroke="#2b2b2b" stroke-width="1.6" />
<text x="58" y="1178.9" font-size="20.5" text-anchor="end" font-weight="normal" >-0.4</text>
<line x1="65" y1="1236.5" x2="71.5" y2="1236.5" stroke="#2b2b2b" stroke-width="1.6" />
<text x="58" y="1244.3" font-size="20.5" text-anchor="end" font-weight="normal" >-0.6</text>
<line x1="65" y1="1301.9" x2="71.5" y2="1301.9" stroke="#2b2b2b" stroke-width="1.6" />
<text x="58" y="1309.7" font-size="20.5" text-anchor="end" font-weight="normal" >-0.8</text>
<line x1="65" y1="1301.9" x2="65" y2="1295.4" stroke="#2b2b2b" stroke-width="1.6" />
<text x="65" y="1327" font-size="20.5" text-anchor="middle" font-weight="normal" >0</text>
<line x1="172.72" y1="1301.9" x2="172.72" y2="1295.4" stroke="#2b2b2b" stroke-width="1.6" />
<text x="172.72" y="1327" font-size="20.5" text-anchor="middle" font-weight="normal" >2</text>
<line x1="280.43" y1="1301.9" x2="280.43" y2="1295.4" stroke="#2b2b2b" stroke-width="1.6" />
<text x="280.43" y="1327" font-size="20.5" text-anchor="middle" font-weight="normal" >4</text>
<line x1="388.15" y1="1301.9" x2="388.15" y2="1295.4" stroke="#2b2b2b" stroke-width="1.6" />
<text x="388.15" y="1327" font-size="20.5" text-anchor="middle" font-weight="normal" >6</text>
<line x1="495.87" y1="1301.9" x2="495.87" y2="1295.4" stroke="#2b2b2b" stroke-width="1.6" />
<text x="495.87" y="1327" font-size="20.5" text-anchor="middle" font-weight="normal" >8</text>
<line x1="603.58" y1="1301.9" x2="603.58" y2="1295.4" stroke="#2b2b2b" stroke-width="1.6" />
<text x="603.58" y="1327" font-size="20.5" text-anchor="middle" font-weight="normal" >10</text>
<line x1="711.3" y1="1301.9" x2="711.3" y2="1295.4" stroke="#2b2b2b" stroke-width="1.6" />
<text x="711.3" y="1327" font-size="20.5" text-anchor="middle" font-weight="normal" >12</text>
<text transform="translate(23.8,1139.2) rotate(-90)" font-size="21" text-anchor="middle">Steer[rad]</text>
<text x="388.15" y="1343.8" font-size="20.5" text-anchor="middle" font-weight="normal" >Index</text>
<text x="702.8" y="1361.5" font-size="20.5" text-anchor="end" font-weight="normal" >x 10</text>
<text x="704" y="1348.3" font-size="13.5" text-anchor="start" font-weight="normal" >4</text>
<text x="376.8" y="1384.4" font-size="23.5" text-anchor="start" font-weight="normal" style="stroke-width:0.1px">(</text>
<text x="383.85" y="1384.4" font-size="21" text-anchor="start" font-weight="bold" >e</text>
<text x="393.6" y="1384.4" font-size="23.5" text-anchor="start" font-weight="normal" style="stroke-width:0.1px">)</text>
<line x1="65" y1="1040.3" x2="146" y2="1040.3" stroke="#2020d8" stroke-width="1.4" />
<line x1="285" y1="1040.3" x2="431.4" y2="1040.3" stroke="#2020d8" stroke-width="1.4" />
<line x1="65" y1="1040.3" x2="146" y2="1040.3" stroke="#22dd22" stroke-width="1.4" />
<line x1="285" y1="1040.3" x2="431.4" y2="1040.3" stroke="#22dd22" stroke-width="1.4" />
<line x1="65" y1="1040.3" x2="146" y2="1040.3" stroke="#dd2222" stroke-width="1.4" />
<line x1="285" y1="1040.3" x2="431.4" y2="1040.3" stroke="#dd2222" stroke-width="1.4" />
<line x1="570.4" y1="1040.3" x2="620.1" y2="1040.3" stroke="#dd2222" stroke-width="1.4" />
<polyline points="146,1040.3 146.35,1040.77 146.7,1041.24 147.05,1041.72 147.4,1042.19 147.75,1042.66 148.1,1043.35 148.45,1044.57 148.8,1045.8 149.15,1047.02 149.5,1048.25 149.85,1049.47 150.2,1051.04 150.55,1052.87 150.9,1054.7 151.25,1056.52 151.6,1058.35 151.95,1060.17 152.3,1062 152.65,1064.06 153,1066.12 153.35,1068.18 153.7,1070.24 154.05,1072.29 154.4,1074.35 154.75,1076.41 155.1,1078.47 155.45,1080.53 155.8,1082.59 156.15,1084.65 156.5,1086.71 156.85,1088.76 157.2,1090.82 157.55,1092.81 157.9,1094.69 158.25,1096.48 158.6,1098.84 158.95,1100.1 159.3,1101.73 159.65,1104.9 160,1104.93 160.35,1107.11 160.7,1111 161.05,1113.26 161.4,1114.41 161.75,1116.55 162.1,1117.8 162.45,1119.97 162.8,1124.53 163.15,1122.21 163.5,1129.31 163.85,1126.96 164.2,1135.42 164.55,1138.11 164.9,1137.53 165.25,1144.93 165.6,1138.27 165.95,1139.96 166.3,1145.22 166.65,1142.03 167,1142.21 167.35,1149.74 167.7,1152.09 168.05,1157.82 168.4,1147.1 168.75,1160.15 169.1,1155.01 169.45,1152.9 169.8,1166.25 170.15,1164.09 170.5,1167.54 170.85,1155.86 171.2,1168.94 171.55,1158.03 171.9,1167.64 172.25,1165.81 172.6,1162.27 172.95,1176.54 173.3,1177.94 173.65,1180.5 174,1172.51 174.35,1185.69 174.7,1176.39 175.05,1187.78 175.4,1183.7 175.75,1184.04 176.1,1173.19 176.45,1196.6 176.8,1191.32 177.15,1192.74 177.5,1186.33 177.85,1178 178.2,1177.49 178.55,1190.77 178.9,1197.95 179.25,1196.81 179.6,1205.6 179.95,1201.05 180.3,1186.78 180.65,1202.13 181,1210.01 181.35,1203.86 181.7,1197.22 182.05,1213.36 182.4,1197.1 182.75,1215.86 183.1,1212.99 183.45,1209.66 183.8,1196.46 184.15,1202.72 184.5,1195.85 184.85,1209.72 185.2,1200.29 185.55,1221.98 185.9,1225.59 186.25,1192.58 186.6,1209.86 186.95,1218.16 187.3,1226.5 187.65,1217.83 188,1213.13 188.35,1213.51 188.7,1219.54 189.05,1215.95 189.4,1209.6 189.75,1195.09 190.1,1217.82 190.45,1203.57 190.8,1217.05 191.15,1214.28 191.5,1207.09 191.85,1229.77 192.2,1224.13 192.55,1214.17 192.9,1206.09 193.25,1222.05 193.6,1224.02 193.95,1214.53 194.3,1216.67 194.65,1213.98 195,1200.16 195.35,1224.59 195.7,1210.28 196.05,1203.21 196.4,1220 196.75,1195.1 197.1,1209.65 197.45,1225.46 197.8,1193.75 198.15,1196.91 198.5,1216.95 198.85,1207.07 199.2,1216.79 199.55,1219.72 199.9,1216.42 200.25,1206.17 200.6,1212.05 200.95,1205.45 201.3,1206.28 201.65,1200.57 202,1215.92 202.35,1214.08 202.7,1203.98 203.05,1194.06 203.4,1202.84 203.75,1188.56 204.1,1202.76 204.45,1210.9 204.8,1201.58 205.15,1188.98 205.5,1198.89 205.85,1213.4 206.2,1213.21 206.55,1209.77 206.9,1199.82 207.25,1191.49 207.6,1215.64 207.95,1186.35 208.3,1191.92 208.65,1194.39 209,1214.01 209.35,1188.44 209.7,1191.79 210.05,1199.32 210.4,1194.95 210.75,1199.04 211.1,1190.06 211.45,1201.75 211.8,1207.36 212.15,1207.34 212.5,1204.08 212.85,1208.25 213.2,1192.46 213.55,1189.8 213.9,1206.52 214.25,1202.96 214.6,1186.36 214.95,1194.73 215.3,1186.92 215.65,1205.42 216,1201.14 216.35,1208.03 216.7,1202.87 217.05,1200.86 217.4,1203.28 217.75,1197.13 218.1,1204.41 218.45,1187.84 218.8,1208.17 219.15,1211.22 219.5,1194.19 219.85,1190.55 220.2,1195.36 220.55,1208.47 220.9,1203.77 221.25,1193.55 221.6,1192.22 221.95,1185.9 222.3,1181.94 222.65,1202.31 223,1203.78 223.35,1191.85 223.7,1194.37 224.05,1202.12 224.4,1204.81 224.75,1201.28 225.1,1191.53 225.45,1203.79 225.8,1200.79 226.15,1191.32 226.5,1182.53 226.85,1203.98 227.2,1197.17 227.55,1186.52 227.9,1197.74 228.25,1197.5 228.6,1194.14 228.95,1206.21 229.3,1198.37 229.65,1205.85 230,1199.21 230.35,1201.82 230.7,1202.32 231.05,1203.47 231.4,1193.1 231.75,1194.64 232.1,1196.44 232.45,1181.81 232.8,1208.53 233.15,1183.93 233.5,1184.15 233.85,1208.59 234.2,1190.64 234.55,1195.22 234.9,1187.08 235.25,1194.2 235.6,1198.23 235.95,1179.94 236.3,1180.66 236.65,1199.15 237,1202.84 237.35,1180.78 237.7,1207.95 238.05,1190.59 238.4,1204.7 238.75,1192.98 239.1,1198.14 239.45,1204.77 239.8,1205.16 240.15,1191.12 240.5,1180.6 240.85,1182.46 241.2,1196.57 241.55,1185.99 241.9,1190.06 242.25,1192.92 242.6,1203.87 242.95,1207.45 243.3,1199.44 243.65,1188.36 244,1196.81" fill="none" stroke="#2020d8" stroke-width="1.1" stroke-linejoin="round" />
<polyline points="146,1040.3 146.35,1040.77 146.7,1041.24 147.05,1041.72 147.4,1042.19 147.75,1042.66 148.1,1043.35 148.45,1044.57 148.8,1045.8 149.15,1047.02 149.5,1048.25 149.85,1049.47 150.2,1051.04 150.55,1052.87 150.9,1054.7 151.25,1056.52 151.6,1058.35 151.95,1060.17 152.3,1062 152.65,1064.06 153,1066.12 153.35,1068.18 153.7,1070.24 154.05,1072.29 154.4,1074.35 154.75,1076.41 155.1,1078.47 155.45,1080.53 155.8,1082.59 156.15,1084.65 156.5,1086.71 156.85,1088.76 157.2,1090.82 157.55,1092.81 157.9,1094.69 158.25,1096.53 158.6,1098.35 158.95,1100.2 159.3,1102.34 159.65,1104.2 160,1106.17 160.35,1108.82 160.7,1108.56 161.05,1112.21 161.4,1116.15 161.75,1113.97 162.1,1116.6 162.45,1121.47 162.8,1119.53 163.15,1122.14 163.5,1128.07 163.85,1127.2 164.2,1131.96 164.55,1133.25 164.9,1140.88 165.25,1138.91 165.6,1143.16 165.95,1146.94 166.3,1147.76 166.65,1149.85 167,1151.39 167.35,1154.71 167.7,1150.92 168.05,1156.28 168.4,1147.18 168.75,1162.41 169.1,1152.03 169.45,1157.38 169.8,1154.77 170.15,1155.31 170.5,1167.43 170.85,1156.62 171.2,1166.88 171.55,1161.28 171.9,1162.73 172.25,1173.38 172.6,1165.16 172.95,1167.45 173.3,1178.35 173.65,1175.39 174,1175.23 174.35,1185.4 174.7,1174.72 175.05,1189.91 175.4,1168.2 175.75,1189.22 176.1,1183.99 176.45,1178.92 176.8,1189.55 177.15,1174.25 177.5,1184.54 177.85,1194.66 178.2,1180.92 178.55,1186.4 178.9,1202.71 179.25,1197.44 179.6,1187.98 179.95,1185.61 180.3,1181.77 180.65,1207.75 181,1185.19 181.35,1186.44 181.7,1198.41 182.05,1202.87 182.4,1194.52 182.75,1198.84 183.1,1189.11 183.45,1193.57 183.8,1204.42 184.15,1214.92 184.5,1194.19 184.85,1204.65 185.2,1201.71 185.55,1193.93 185.9,1205.68 186.25,1217.8 186.6,1192 186.95,1214.67 187.3,1210.35 187.65,1192.99 188,1218.58 188.35,1213.06 188.7,1205.73 189.05,1203.59 189.4,1206.95 189.75,1202.96 190.1,1218.37 190.45,1225.09 190.8,1217.89 191.15,1201.49 191.5,1197.52 191.85,1217.05 192.2,1207.14 192.55,1200.15 192.9,1198.19 193.25,1196.24 193.6,1207.46 193.95,1214.4 194.3,1219.84 194.65,1204.06 195,1193.83 195.35,1215.61 195.7,1218.37 196.05,1197.89 196.4,1203.63 196.75,1195.85 197.1,1208.35 197.45,1218.01 197.8,1196.72 198.15,1219.78 198.5,1202.26 198.85,1195.42 199.2,1221.34 199.55,1212.61 199.9,1196.34 200.25,1209.25 200.6,1192.33 200.95,1207.09 201.3,1199.28 201.65,1199.96 202,1192.54 202.35,1192.63 202.7,1204.55 203.05,1204.76 203.4,1214.88 203.75,1211.9 204.1,1191.18 204.45,1195.87 204.8,1194.27 205.15,1211.25 205.5,1194.14 205.85,1191.93 206.2,1213.59 206.55,1195.2 206.9,1207.28 207.25,1202.88 207.6,1186.34 207.95,1189.55 208.3,1201.55 208.65,1199.92 209,1201.04 209.35,1186.28 209.7,1188.86 210.05,1201.24 210.4,1195.93 210.75,1203.41 211.1,1204.97 211.45,1211.41 211.8,1207.46 212.15,1195.97 212.5,1208.48 212.85,1198.17 213.2,1208.12 213.55,1185.48 213.9,1207.68 214.25,1199.57 214.6,1191.79 214.95,1186.8 215.3,1196.71 215.65,1184.87 216,1197.08 216.35,1191.24 216.7,1182.33 217.05,1208.16 217.4,1205.44 217.75,1203.72 218.1,1202.08 218.45,1182.71 218.8,1185.64 219.15,1187.03 219.5,1189.96 219.85,1183.68 220.2,1203.16 220.55,1191.16 220.9,1181.1 221.25,1189.75 221.6,1205.96 221.95,1193.9 222.3,1189.22 222.65,1204.79 223,1203.19 223.35,1193.61 223.7,1204.13 224.05,1186.44 224.4,1186.1 224.75,1181.77 225.1,1189.12 225.45,1203.52 225.8,1184.35 226.15,1205.15 226.5,1182.75 226.85,1188.62 227.2,1185.67 227.55,1186.61 227.9,1200.97 228.25,1197.56 228.6,1195.62 228.95,1188.03 229.3,1197.48 229.65,1178.65 230,1191.45 230.35,1181.75 230.7,1187.35 231.05,1184.31 231.4,1199.55 231.75,1187.13 232.1,1184.7 232.45,1182.74 232.8,1199.32 233.15,1203.94 233.5,1184.43 233.85,1196.49 234.2,1196.81 234.55,1193.11 234.9,1201.63 235.25,1193.16 235.6,1184.12 235.95,1183.87 236.3,1185.67 236.65,1199.62 237,1200.07 237.35,1192.19 237.7,1194.53 238.05,1180.34 238.4,1197.98 238.75,1202.07 239.1,1181.98 239.45,1190.63 239.8,1186.14 240.15,1181.16 240.5,1194.04 240.85,1199.81 241.2,1183 241.55,1180.28 241.9,1195.3 242.25,1186.01 242.6,1181.4 242.95,1183.54 243.3,1183.21 243.65,1200.63 244,1180.59" fill="none" stroke="#2020d8" stroke-width="1.0" stroke-linejoin="round" stroke-dasharray="2,1.5" />
<path d="M244.5,1192 C244.5,1192 246,1183.67 246.5,1180 C247,1176.33 247.15,1174.25 247.5,1170 C247.85,1165.75 248.13,1160.9 248.6,1154.5 C249.07,1148.1 249.82,1139.23 250.3,1131.6 C250.78,1123.97 251.02,1116.33 251.5,1108.7 C251.98,1101.07 252.63,1093.43 253.2,1085.8 C253.77,1078.17 254.4,1068.53 254.9,1062.9 C255.4,1057.27 255.82,1054.87 256.2,1052 C256.58,1049.13 256.75,1047.95 257.2,1045.7 C257.65,1043.45 258.35,1040.62 258.9,1038.5 C259.45,1036.38 259.87,1034.45 260.5,1033 C261.13,1031.55 261.95,1030.2 262.7,1029.8 C263.45,1029.4 264.12,1029.98 265,1030.6 C265.88,1031.22 267,1032.47 268,1033.5 C269,1034.53 269.83,1035.83 271,1036.8 C272.17,1037.77 273.5,1038.73 275,1039.3 C276.5,1039.87 278.33,1040.03 280,1040.2 C281.67,1040.37 284.17,1040.28 285,1040.3" fill="none" stroke="#2020d8" stroke-width="1.5" stroke-linejoin="round" />
<polyline points="431.4,1040.3 431.75,1040.77 432.1,1041.24 432.45,1041.72 432.8,1042.19 433.15,1042.66 433.5,1043.35 433.85,1044.57 434.2,1045.8 434.55,1047.02 434.9,1048.25 435.25,1049.47 435.6,1051.04 435.95,1052.87 436.3,1054.7 436.65,1056.52 437,1058.35 437.35,1060.17 437.7,1062 438.05,1064.06 438.4,1066.12 438.75,1068.18 439.1,1070.24 439.45,1072.29 439.8,1074.35 440.15,1076.41 440.5,1078.47 440.85,1080.53 441.2,1082.59 441.55,1084.65 441.9,1086.71 442.25,1088.76 442.6,1090.82 442.95,1092.81 443.3,1094.69 443.65,1096.66 444,1098.84 444.35,1099.85 444.7,1101.7 445.05,1105.11 445.4,1104.94 445.75,1106.97 446.1,1111.14 446.45,1111.71 446.8,1113.79 447.15,1118.01 447.5,1120.22 447.85,1119.55 448.2,1124.3 448.55,1122.79 448.9,1126.32 449.25,1129.82 449.6,1128.12 449.95,1132.71 450.3,1139.66 450.65,1134.91 451,1141.35 451.35,1143.18 451.7,1143.6 452.05,1140.05 452.4,1141.17 452.75,1145.3 453.1,1146.39 453.45,1146.01 453.8,1153.53 454.15,1155.94 454.5,1157.34 454.85,1150.58 455.2,1165.82 455.55,1166.04 455.9,1164.58 456.25,1161.03 456.6,1161.92 456.95,1163.82 457.3,1166.48 457.65,1168.83 458,1165.77 458.35,1163.63 458.7,1168.28 459.05,1166.29 459.4,1167.58 459.75,1175.69 460.1,1172.87 460.45,1173.78 460.8,1169.24 461.15,1176.77 461.5,1174.8 461.85,1174.39 462.2,1182.99 462.55,1173.13 462.9,1191.9 463.25,1201.62 463.6,1178.42 463.95,1181.4 464.3,1191.56 464.65,1195.54 465,1203.96 465.35,1198.51 465.7,1181.31 466.05,1188.42 466.4,1192.38 466.75,1199.74 467.1,1197.38 467.45,1204.94 467.8,1214.41 468.15,1213.87 468.5,1190.63 468.85,1211.67 469.2,1188.86 469.55,1211.47 469.9,1206.12 470.25,1194.79 470.6,1203.88 470.95,1209.41 471.3,1198.77 471.65,1212.71 472,1197.14 472.35,1210.37 472.7,1209.46 473.05,1206.33 473.4,1222.4 473.75,1214.5 474.1,1195.71 474.45,1206.58 474.8,1198.72 475.15,1225.94 475.5,1217.65 475.85,1203.58 476.2,1197.03 476.55,1211.08 476.9,1197.97 477.25,1199.04 477.6,1204.17 477.95,1218.16 478.3,1211.04 478.65,1205.03 479,1202.39 479.35,1209.47 479.7,1218.87 480.05,1193.68 480.4,1211.56 480.75,1198.11 481.1,1223.41 481.45,1196.56 481.8,1192.57 482.15,1192.65 482.5,1215.02 482.85,1211.92 483.2,1200.29 483.55,1222.58 483.9,1218.58 484.25,1213.86 484.6,1192.96 484.95,1195.95 485.3,1192.16 485.65,1194.39 486,1189.78 486.35,1212.65 486.7,1206.64 487.05,1189.2 487.4,1199.46 487.75,1203.93 488.1,1200.7 488.45,1190.52 488.8,1207.8 489.15,1212.34 489.5,1211.25 489.85,1189.55 490.2,1215.74 490.55,1199.52 490.9,1210.37 491.25,1202.23 491.6,1213.38 491.95,1210.44 492.3,1203.35 492.65,1206.47 493,1188.63 493.35,1195.8 493.7,1199.62 494.05,1190.43 494.4,1195.51 494.75,1197.79 495.1,1200.08 495.45,1185.76 495.8,1211.84 496.15,1204.7 496.5,1199.8 496.85,1205.02 497.2,1185.8 497.55,1191.44 497.9,1196.67 498.25,1187.45 498.6,1196.85 498.95,1194.71 499.3,1193.88 499.65,1188.47 500,1183.44 500.35,1204 500.7,1186.4 501.05,1203.59 501.4,1208.46 501.75,1199.75 502.1,1186.89 502.45,1196.81 502.8,1207.68 503.15,1198.94 503.5,1207.25 503.85,1201.77 504.2,1192.88 504.55,1186.26 504.9,1184.9 505.25,1191.18 505.6,1202.25 505.95,1203.91 506.3,1184.84 506.65,1187.66 507,1192.73 507.35,1183.15 507.7,1199.56 508.05,1205.57 508.4,1199.27 508.75,1182.01 509.1,1200.66 509.45,1190.02 509.8,1196.41 510.15,1182.39 510.5,1189.17 510.85,1186.71 511.2,1183.86 511.55,1203.28 511.9,1183.33 512.25,1189.28 512.6,1200 512.95,1199.56 513.3,1202.57 513.65,1203.78 514,1187.62 514.35,1200.29 514.7,1199.13 515.05,1201.51 515.4,1182.79 515.75,1198.87 516.1,1202.01 516.45,1185.89 516.8,1196.99 517.15,1180.86 517.5,1178.37 517.85,1195.09 518.2,1200.77 518.55,1193.36 518.9,1195.67 519.25,1184.77 519.6,1183.08 519.95,1204.7 520.3,1184.33 520.65,1185.48 521,1196.18 521.35,1184.86 521.7,1184.55 522.05,1180.62 522.4,1185.02 522.75,1179.55 523.1,1182.79 523.45,1187.9 523.8,1178.96 524.15,1186.4 524.5,1184.5 524.85,1181.51 525.2,1178.97 525.55,1193.01 525.9,1192.47 526.25,1180.44 526.6,1179.38 526.95,1195.42 527.3,1179.17 527.65,1187.26 528,1179.96 528.35,1203.96 528.7,1196.37 529.05,1200.96 529.4,1179.15" fill="none" stroke="#2020d8" stroke-width="1.1" stroke-linejoin="round" />
<polyline points="431.4,1040.3 431.75,1040.77 432.1,1041.24 432.45,1041.72 432.8,1042.19 433.15,1042.66 433.5,1043.35 433.85,1044.57 434.2,1045.8 434.55,1047.02 434.9,1048.25 435.25,1049.47 435.6,1051.04 435.95,1052.87 436.3,1054.7 436.65,1056.52 437,1058.35 437.35,1060.17 437.7,1062 438.05,1064.06 438.4,1066.12 438.75,1068.18 439.1,1070.24 439.45,1072.29 439.8,1074.35 440.15,1076.41 440.5,1078.47 440.85,1080.53 441.2,1082.59 441.55,1084.65 441.9,1086.71 442.25,1088.76 442.6,1090.82 442.95,1092.81 443.3,1094.69 443.65,1096.42 444,1098.43 444.35,1100.5 444.7,1101.4 445.05,1104.74 445.4,1105.26 445.75,1107.06 446.1,1109.46 446.45,1112.8 446.8,1113.27 447.15,1118.26 447.5,1117 447.85,1118.97 448.2,1124.23 448.55,1126.09 448.9,1127.51 449.25,1130.18 449.6,1132.74 449.95,1136.66 450.3,1135.73 450.65,1136.27 451,1136.11 451.35,1138.17 451.7,1139.96 452.05,1151.53 452.4,1146.06 452.75,1149.86 453.1,1148.6 453.45,1154.91 453.8,1156.47 454.15,1154.25 454.5,1149.85 454.85,1153.05 455.2,1152.53 455.55,1152.74 455.9,1171.08 456.25,1169.36 456.6,1156.99 456.95,1158.66 457.3,1169.66 457.65,1173.97 458,1164.4 458.35,1178.81 458.7,1177.93 459.05,1177.86 459.4,1167.73 459.75,1185.34 460.1,1174.97 460.45,1185.38 460.8,1175.38 461.15,1185.77 461.5,1183.64 461.85,1189.88 462.2,1187.57 462.55,1189.74 462.9,1200.82 463.25,1196.68 463.6,1186.74 463.95,1183.97 464.3,1190.73 464.65,1193.79 465,1198.99 465.35,1196.57 465.7,1207.51 466.05,1202.18 466.4,1194.99 466.75,1204.27 467.1,1185.8 467.45,1188.74 467.8,1196.89 468.15,1191.94 468.5,1200.51 468.85,1195.25 469.2,1195.78 469.55,1202.63 469.9,1209.22 470.25,1220.83 470.6,1216.61 470.95,1191.79 471.3,1216.21 471.65,1189.97 472,1211.46 472.35,1218.5 472.7,1207 473.05,1197.9 473.4,1198.28 473.75,1194.77 474.1,1197.27 474.45,1203.21 474.8,1211.72 475.15,1196.49 475.5,1226.06 475.85,1215.95 476.2,1202.69 476.55,1203.11 476.9,1200.46 477.25,1225.86 477.6,1204.87 477.95,1204.67 478.3,1204.35 478.65,1208.38 479,1198.18 479.35,1204.71 479.7,1197.69 480.05,1200.44 480.4,1195.69 480.75,1207 481.1,1213.96 481.45,1203.54 481.8,1205.85 482.15,1193.11 482.5,1195.36 482.85,1199.3 483.2,1192.94 483.55,1214.2 483.9,1195.73 484.25,1191.6 484.6,1216.12 484.95,1217.24 485.3,1209.54 485.65,1207.96 486,1215.89 486.35,1196.88 486.7,1216.13 487.05,1200.37 487.4,1210.55 487.75,1204.85 488.1,1206.38 488.45,1196.29 488.8,1205.59 489.15,1208.18 489.5,1192.84 489.85,1201.56 490.2,1196.48 490.55,1211.66 490.9,1201.41 491.25,1198.17 491.6,1201.97 491.95,1214.4 492.3,1187.37 492.65,1188.77 493,1198.71 493.35,1198.39 493.7,1200.44 494.05,1190.52 494.4,1188.45 494.75,1197.72 495.1,1185.25 495.45,1188.99 495.8,1207.93 496.15,1189.16 496.5,1196.36 496.85,1210.7 497.2,1185.76 497.55,1189.87 497.9,1197.87 498.25,1193.48 498.6,1191.89 498.95,1188.31 499.3,1187.46 499.65,1184.43 500,1204.94 500.35,1192.6 500.7,1204.7 501.05,1199.67 501.4,1191.71 501.75,1189.94 502.1,1196.5 502.45,1189.59 502.8,1188.45 503.15,1198.94 503.5,1196.56 503.85,1183.09 504.2,1186.6 504.55,1200.04 504.9,1186.44 505.25,1192.08 505.6,1185.59 505.95,1205.88 506.3,1186.41 506.65,1197.97 507,1183.11 507.35,1188.49 507.7,1205.69 508.05,1191.73 508.4,1188.8 508.75,1188.05 509.1,1191.53 509.45,1196.76 509.8,1194.23 510.15,1206.35 510.5,1187.79 510.85,1198.05 511.2,1187.13 511.55,1180.49 511.9,1184 512.25,1194.83 512.6,1181.87 512.95,1181.44 513.3,1186.9 513.65,1185.57 514,1181.1 514.35,1180.68 514.7,1201.07 515.05,1201.26 515.4,1200.15 515.75,1202.11 516.1,1200.41 516.45,1185.26 516.8,1199.33 517.15,1192.71 517.5,1180.5 517.85,1194.62 518.2,1192.65 518.55,1192.06 518.9,1179.64 519.25,1195.96 519.6,1183.56 519.95,1179.57 520.3,1199.1 520.65,1199.45 521,1203.37 521.35,1186.28 521.7,1185.83 522.05,1180.11 522.4,1191.7 522.75,1201.81 523.1,1193.67 523.45,1177.94 523.8,1193.53 524.15,1185.28 524.5,1185.45 524.85,1200.54 525.2,1190.91 525.55,1192.42 525.9,1193 526.25,1181.66 526.6,1179.68 526.95,1192.31 527.3,1189.52 527.65,1188.51 528,1191.59 528.35,1195.09 528.7,1195.37 529.05,1203.32 529.4,1184.69" fill="none" stroke="#2020d8" stroke-width="1.0" stroke-linejoin="round" stroke-dasharray="2,1.5" />
<path d="M529.9,1192 C529.9,1192 531.4,1183.67 531.9,1180 C532.4,1176.33 532.55,1174.25 532.9,1170 C533.25,1165.75 533.53,1160.9 534,1154.5 C534.47,1148.1 535.22,1139.23 535.7,1131.6 C536.18,1123.97 536.42,1116.33 536.9,1108.7 C537.38,1101.07 538.03,1093.43 538.6,1085.8 C539.17,1078.17 539.8,1068.53 540.3,1062.9 C540.8,1057.27 541.22,1054.87 541.6,1052 C541.98,1049.13 542.15,1047.95 542.6,1045.7 C543.05,1043.45 543.75,1040.62 544.3,1038.5 C544.85,1036.38 545.27,1034.45 545.9,1033 C546.53,1031.55 547.35,1030.2 548.1,1029.8 C548.85,1029.4 549.52,1029.98 550.4,1030.6 C551.28,1031.22 552.4,1032.47 553.4,1033.5 C554.4,1034.53 555.23,1035.83 556.4,1036.8 C557.57,1037.77 558.9,1038.73 560.4,1039.3 C561.9,1039.87 563.73,1040.03 565.4,1040.2 C567.07,1040.37 569.57,1040.28 570.4,1040.3" fill="none" stroke="#2020d8" stroke-width="1.5" stroke-linejoin="round" />
<polyline points="146,1040.3 146.25,1040.47 146.5,1040.65 146.75,1040.83 147,1041 147.25,1042.12 147.5,1043.25 147.75,1044.38 148,1045.5 148.25,1046.62 148.5,1047.75 148.75,1048.88 149,1050 149.25,1052 149.5,1054 149.75,1056 150,1058 150.25,1060 150.5,1062 150.75,1063.86 151,1065.72 151.25,1067.58 151.5,1069.44 151.75,1071.31 152,1073.17 152.25,1075.03 152.5,1076.33 152.75,1077.49 153,1078.65 153.25,1079.81 153.5,1080.97 153.75,1082.13 154,1083.29 154.25,1084.45 154.5,1085.61 154.75,1086.77 155,1087.88 155.25,1088.99 155.5,1090.1 155.75,1091.2 156,1092.31 156.25,1093.41 156.5,1094.52 156.75,1095.62 157,1096.73 157.25,1097.84 157.5,1099.05 157.75,1100.42 158,1101.79 158.25,1103.15 158.5,1104.52 158.75,1105.89 159,1107.26 159.25,1108.63 159.5,1110 159.75,1111.44 160,1112.88 160.25,1114.27 160.5,1115.9 160.75,1116.62 161,1119.69 161.25,1121.3 161.5,1123.71 161.75,1123.78 162,1124.29 162.25,1127.31 162.5,1125.34 162.75,1127.79 163,1128.49 163.25,1128.94 163.5,1132.71 163.75,1131.91 164,1133.69 164.25,1136.08 164.5,1134.94 164.75,1137.26 165,1141.98 165.25,1138.94 165.5,1145.59 165.75,1141.49 166,1146.05 166.25,1147.14 166.5,1147.52 166.75,1146.13 167,1144.69 167.25,1149.39 167.5,1147.97 167.75,1144.73 168,1155.55 168.25,1154.31 168.5,1152.06 168.75,1149.83 169,1148.4 169.25,1160.7 169.5,1154.78 169.75,1160.7 170,1162.11 170.25,1154.26 170.5,1160.07 170.75,1173.76 171,1156.79 171.25,1168.94 171.5,1162.29 171.75,1161.41 172,1164.51 172.25,1165.77 172.5,1169.12 172.75,1156.4 173,1163.21 173.25,1174.07 173.5,1173.57 173.75,1175.67 174,1168.84 174.25,1171.82 174.5,1160.97 174.75,1177.45 175,1177.04 175.25,1173.7 175.5,1161.49 175.75,1182.81 176,1171.78 176.25,1166.7 176.5,1157.4 176.75,1173.94 177,1170.74 177.25,1163.32 177.5,1160.87 177.75,1162.69 178,1172.58 178.25,1168.44 178.5,1160.63 178.75,1168.48 179,1175.28 179.25,1164.2 179.5,1171.35 179.75,1167.74 180,1160.7 180.25,1157.32 180.5,1169.85 180.75,1159.09 181,1176.24 181.25,1151.85 181.5,1160.86 181.75,1170.4 182,1167.55 182.25,1165.64 182.5,1146.13 182.75,1148.17 183,1156.91 183.25,1148.95 183.5,1147.21 183.75,1147.47 184,1144.26 184.25,1158.95 184.5,1148.68 184.75,1138.49 185,1143.74 185.25,1139.71 185.5,1145.92 185.75,1142.92 186,1139.01 186.25,1135.8 186.5,1135.48 186.75,1134.88 187,1138.23 187.25,1125.1 187.5,1123.95 187.75,1129.74 188,1123.18 188.25,1128.85 188.5,1125.61 188.75,1121.6 189,1120.99 189.25,1123.27 189.5,1121.02 189.75,1117.16 190,1110.39 190.25,1109.5 190.5,1109.45 190.75,1103.98 191,1099.91 191.25,1094.16 191.5,1088.81 191.75,1083.45 192,1078.39 192.25,1074.93 192.5,1069.06 192.75,1063.78 193,1062.39 193.25,1055.92" fill="none" stroke="#22dd22" stroke-width="1.1" stroke-linejoin="round" />
<polyline points="146,1040.3 146.25,1040.47 146.5,1040.65 146.75,1040.83 147,1041 147.25,1042.12 147.5,1043.25 147.75,1044.38 148,1045.5 148.25,1046.62 148.5,1047.75 148.75,1048.88 149,1050 149.25,1052 149.5,1054 149.75,1056 150,1058 150.25,1060 150.5,1062 150.75,1063.86 151,1065.72 151.25,1067.58 151.5,1069.44 151.75,1071.31 152,1073.17 152.25,1075.03 152.5,1076.33 152.75,1077.49 153,1078.65 153.25,1079.81 153.5,1080.97 153.75,1082.13 154,1083.29 154.25,1084.45 154.5,1085.61 154.75,1086.77 155,1087.88 155.25,1088.99 155.5,1090.1 155.75,1091.2 156,1092.31 156.25,1093.41 156.5,1094.52 156.75,1095.62 157,1096.73 157.25,1097.84 157.5,1099.05 157.75,1100.42 158,1101.79 158.25,1103.15 158.5,1104.52 158.75,1105.89 159,1107.26 159.25,1108.63 159.5,1110 159.75,1111.44 160,1112.88 160.25,1114.4 160.5,1115.37 160.75,1116.93 161,1119.1 161.25,1120.95 161.5,1121.23 161.75,1125.37 162,1124.8 162.25,1124.73 162.5,1128.41 162.75,1128.1 163,1131.49 163.25,1131.09 163.5,1129.42 163.75,1137.72 164,1131.08 164.25,1133.64 164.5,1137.21 164.75,1137.2 165,1142.88 165.25,1138.85 165.5,1138.38 165.75,1139.54 166,1147.54 166.25,1139.62 166.5,1143.4 166.75,1155.44 167,1144.77 167.25,1151.61 167.5,1155.39 167.75,1148.62 168,1149.5 168.25,1152.24 168.5,1148.57 168.75,1161.06 169,1156.75 169.25,1148.59 169.5,1151.48 169.75,1158.43 170,1165.35 170.25,1150.57 170.5,1164.68 170.75,1160.36 171,1173.27 171.25,1151.61 171.5,1151.99 171.75,1152.96 172,1154.56 172.25,1168.98 172.5,1155.41 172.75,1168.07 173,1165.08 173.25,1171.51 173.5,1174 173.75,1170.24 174,1177.75 174.25,1160.52 174.5,1165.69 174.75,1179.86 175,1169.64 175.25,1172.1 175.5,1165.61 175.75,1172.83 176,1175.41 176.25,1164.88 176.5,1163.98 176.75,1157.68 177,1158.26 177.25,1178.79 177.5,1168.54 177.75,1165.31 178,1163.69 178.25,1183.26 178.5,1175.38 178.75,1173.89 179,1157.29 179.25,1159.68 179.5,1182.33 179.75,1180.11 180,1178.18 180.25,1162.4 180.5,1168.21 180.75,1152.7 181,1160.61 181.25,1168.94 181.5,1177.41 181.75,1167.9 182,1154.26 182.25,1164.86 182.5,1146.53 182.75,1147.44 183,1162.57 183.25,1147.48 183.5,1147.78 183.75,1155.23 184,1146.02 184.25,1152.04 184.5,1155.27 184.75,1139.54 185,1144.23 185.25,1140.62 185.5,1136.2 185.75,1152.62 186,1140.54 186.25,1141.58 186.5,1141.47 186.75,1133.09 187,1131.17 187.25,1129.6 187.5,1127.97 187.75,1132.46 188,1128.75 188.25,1123.92 188.5,1121.02 188.75,1118.1 189,1124.44 189.25,1123.03 189.5,1117.86 189.75,1110.27 190,1112.16 190.25,1109.6 190.5,1103.69 190.75,1099.46 191,1095.3 191.25,1089.62 191.5,1089.01 191.75,1085.19 192,1080.03 192.25,1071.63 192.5,1069.82 192.75,1062.27 193,1059.13 193.25,1054.44" fill="none" stroke="#22dd22" stroke-width="1.0" stroke-linejoin="round" stroke-dasharray="2,1.5" />
<polyline points="194.2,1027.4 195.2,1120 195.8,1268.5" fill="none" stroke="#22dd22" stroke-width="1.2" stroke-linejoin="round" />
<polyline points="195.8,1268.5 196.15,1252.8 196.5,1268.5 196.85,1261.96 197.2,1268.5 197.55,1262.18 197.9,1268.5 198.25,1259.67 198.6,1268.5 198.95,1261.76 199.3,1268.5 199.65,1257.23 200,1268.5 200.35,1251.27 200.7,1268.5 201.05,1256.27 201.4,1268.5 201.75,1254.27 202.1,1268.5 202.45,1261.75 202.8,1268.5 203.15,1259.31 203.5,1268.5 203.85,1255.27 204.2,1268.5 204.55,1257.34 204.9,1268.5 205.25,1252.63 205.6,1268.5 205.95,1256.62 206.3,1268.5 206.65,1260.43 207,1268.5 207.35,1258.69 207.7,1268.5 208.05,1260.73 208.4,1268.5 208.75,1260.21 209.1,1268.5 209.45,1250.57 209.8,1268.5 210.15,1262.16 210.5,1268.5 210.85,1262.28 211.2,1268.5 211.55,1254.41 211.9,1268.5 212.25,1255.96 212.6,1268.5 212.95,1255.22 213.3,1268.5 213.65,1260.93 214,1268.5 214.35,1260.9 214.7,1268.5 215.05,1257.83 215.4,1268.5 215.75,1262.5 216.1,1268.5 216.45,1253.34 216.8,1268.5 217.15,1261.74 217.5,1268.5 217.85,1246.38 218.2,1268.5 218.55,1253.62 218.9,1268.5 219.25,1260.37 219.6,1268.5 219.95,1261.17 220.3,1268.5 220.65,1252.08 221,1268.5 221.35,1261.95 221.7,1268.5 222.05,1261.08 222.4,1268.5 222.75,1255.17 223.1,1268.5 223.45,1259.03 223.8,1268.5 224.15,1258.66 224.5,1268.5 224.85,1258.82 225.2,1268.5 225.55,1255.3 225.9,1268.5 226.25,1257.11 226.6,1268.5 226.95,1259.61 227.3,1268.5 227.65,1259.88 228,1268.5 228.35,1251.52 228.7,1268.5 229.05,1262.44 229.4,1268.5 229.75,1259.81 230.1,1268.5 230.45,1261.89 230.8,1268.5 231.15,1253.28 231.5,1268.5 231.85,1261.52" fill="none" stroke="#22dd22" stroke-width="1.0" stroke-linejoin="round" />
<path d="M232,1268.5 C232,1268.5 232.37,1208.08 232.6,1180 C232.83,1151.92 233.13,1123.33 233.4,1100 C233.67,1076.67 233.88,1056.67 234.2,1040 C234.52,1023.33 234.9,1008.92 235.3,1000 C235.7,991.08 236.18,987.33 236.6,986.5 C237.02,985.67 237.4,990.25 237.8,995 C238.2,999.75 238.6,1006.67 239,1015 C239.4,1023.33 239.78,1035 240.2,1045 C240.62,1055 241.03,1064.17 241.5,1075 C241.97,1085.83 242.38,1098.08 243,1110 C243.62,1121.92 245.2,1146.5 245.2,1146.5 C245.2,1146.5 245.92,1137.42 246.3,1133 C246.68,1128.58 247.12,1124.67 247.5,1120 C247.88,1115.33 248.23,1109.75 248.6,1105 C248.97,1100.25 249.23,1095.83 249.7,1091.5 C250.17,1087.17 250.82,1082.82 251.4,1079 C251.98,1075.18 252.33,1072.6 253.2,1068.6 C254.07,1064.6 255.37,1058.6 256.6,1055 C257.83,1051.4 259.03,1049 260.6,1047 C262.17,1045 264.1,1044 266,1043 C267.9,1042 270,1041.43 272,1041 C274,1040.57 275.83,1040.52 278,1040.4 C280.17,1040.28 283.83,1040.32 285,1040.3" fill="none" stroke="#22dd22" stroke-width="1.3" stroke-linejoin="round" />
<path d="M233,1268.5 C233,1268.5 233.37,1208.08 233.6,1180 C233.83,1151.92 234.13,1123.33 234.4,1100 C234.67,1076.67 234.88,1056.67 235.2,1040 C235.52,1023.33 235.9,1008.92 236.3,1000 C236.7,991.08 237.18,987.33 237.6,986.5 C238.02,985.67 238.4,990.25 238.8,995 C239.2,999.75 239.6,1006.67 240,1015 C240.4,1023.33 240.78,1035 241.2,1045 C241.62,1055 242.03,1064.17 242.5,1075 C242.97,1085.83 243.38,1098.08 244,1110 C244.62,1121.92 246.2,1146.5 246.2,1146.5" fill="none" stroke="#22dd22" stroke-width="1.2" stroke-linejoin="round" stroke-dasharray="2,1.2" />
<polyline points="431.4,1040.3 431.65,1040.47 431.9,1040.65 432.15,1040.83 432.4,1041 432.65,1042.12 432.9,1043.25 433.15,1044.38 433.4,1045.5 433.65,1046.62 433.9,1047.75 434.15,1048.88 434.4,1050 434.65,1052 434.9,1054 435.15,1056 435.4,1058 435.65,1060 435.9,1062 436.15,1063.86 436.4,1065.72 436.65,1067.58 436.9,1069.44 437.15,1071.31 437.4,1073.17 437.65,1075.03 437.9,1076.33 438.15,1077.49 438.4,1078.65 438.65,1079.81 438.9,1080.97 439.15,1082.13 439.4,1083.29 439.65,1084.45 439.9,1085.61 440.15,1086.77 440.4,1087.88 440.65,1088.99 440.9,1090.1 441.15,1091.2 441.4,1092.31 441.65,1093.41 441.9,1094.52 442.15,1095.62 442.4,1096.73 442.65,1097.84 442.9,1099.05 443.15,1100.42 443.4,1101.79 443.65,1103.15 443.9,1104.52 444.15,1105.89 444.4,1107.26 444.65,1108.63 444.9,1110 445.15,1111.44 445.4,1112.88 445.65,1114.5 445.9,1115.94 446.15,1117.73 446.4,1117.93 446.65,1121.03 446.9,1122.38 447.15,1123.98 447.4,1123.73 447.65,1127.49 447.9,1129.11 448.15,1126.63 448.4,1127.43 448.65,1130.36 448.9,1133.19 449.15,1136.34 449.4,1133.45 449.65,1136.55 449.9,1138.03 450.15,1134.33 450.4,1142.28 450.65,1143.19 450.9,1144.61 451.15,1138.13 451.4,1140.25 451.65,1148.87 451.9,1151.37 452.15,1143.47 452.4,1144.49 452.65,1143.99 452.9,1159.57 453.15,1153.4 453.4,1155.43 453.65,1156.99 453.9,1153.09 454.15,1151.28 454.4,1165.52 454.65,1160.52 454.9,1164.41 455.15,1171.87 455.4,1150.47 455.65,1157.66 455.9,1166.5 456.15,1167.99 456.4,1171.73 456.65,1163.62 456.9,1167.16 457.15,1160.99 457.4,1156.4 457.65,1177.3 457.9,1164.61 458.15,1163.02 458.4,1173.44 458.65,1165.67 458.9,1154.71 459.15,1161.59 459.4,1155.85 459.65,1167.33 459.9,1170.29 460.15,1182.52 460.4,1163.17 460.65,1166.19 460.9,1157.86 461.15,1173.39 461.4,1180.59 461.65,1157.34 461.9,1162.19 462.15,1158.5 462.4,1167.86 462.65,1162.57 462.9,1167.59 463.15,1157.31 463.4,1165.95 463.65,1156.78 463.9,1156.98 464.15,1164.4 464.4,1158.02 464.65,1171.62 464.9,1163.01 465.15,1160.07 465.4,1155.94 465.65,1172.44 465.9,1163.98 466.15,1151.84 466.4,1156.41 466.65,1161.71 466.9,1166.93 467.15,1163.05 467.4,1166.28 467.65,1169.05 467.9,1165.62 468.15,1150.74 468.4,1148.43 468.65,1158.1 468.9,1161.29 469.15,1158.87 469.4,1158.68 469.65,1150.6 469.9,1142.25 470.15,1139.41 470.4,1138.35 470.65,1149.61 470.9,1143.43 471.15,1147.71 471.4,1147.55 471.65,1132.12 471.9,1139.1 472.15,1129.63 472.4,1137.34 472.65,1133.52 472.9,1139.62 473.15,1132.53 473.4,1128.26 473.65,1123.8 473.9,1122.48 474.15,1125.35 474.4,1119.94 474.65,1114.92 474.9,1116.61 475.15,1117.32 475.4,1108.33 475.65,1108.77 475.9,1105.27 476.15,1101.27 476.4,1095.27 476.65,1091.59 476.9,1086.89 477.15,1085.16 477.4,1080.83 477.65,1075.05 477.9,1067.74 478.15,1065.26 478.4,1059.63 478.65,1054.78" fill="none" stroke="#22dd22" stroke-width="1.1" stroke-linejoin="round" />
<polyline points="431.4,1040.3 431.65,1040.47 431.9,1040.65 432.15,1040.83 432.4,1041 432.65,1042.12 432.9,1043.25 433.15,1044.38 433.4,1045.5 433.65,1046.62 433.9,1047.75 434.15,1048.88 434.4,1050 434.65,1052 434.9,1054 435.15,1056 435.4,1058 435.65,1060 435.9,1062 436.15,1063.86 436.4,1065.72 436.65,1067.58 436.9,1069.44 437.15,1071.31 437.4,1073.17 437.65,1075.03 437.9,1076.33 438.15,1077.49 438.4,1078.65 438.65,1079.81 438.9,1080.97 439.15,1082.13 439.4,1083.29 439.65,1084.45 439.9,1085.61 440.15,1086.77 440.4,1087.88 440.65,1088.99 440.9,1090.1 441.15,1091.2 441.4,1092.31 441.65,1093.41 441.9,1094.52 442.15,1095.62 442.4,1096.73 442.65,1097.84 442.9,1099.05 443.15,1100.42 443.4,1101.79 443.65,1103.15 443.9,1104.52 444.15,1105.89 444.4,1107.26 444.65,1108.63 444.9,1110 445.15,1111.44 445.4,1112.88 445.65,1114.21 445.9,1115.47 446.15,1117.72 446.4,1118.36 446.65,1119.36 446.9,1122.4 447.15,1122.34 447.4,1123.93 447.65,1123.81 447.9,1125.4 448.15,1126.71 448.4,1126.59 448.65,1132.54 448.9,1133.82 449.15,1132.66 449.4,1139.36 449.65,1132.99 449.9,1137.47 450.15,1139.64 450.4,1139.99 450.65,1144.35 450.9,1140.27 451.15,1141.06 451.4,1143.9 451.65,1150.35 451.9,1146.53 452.15,1154.61 452.4,1150.65 452.65,1153.83 452.9,1146.1 453.15,1151.75 453.4,1158.79 453.65,1164.74 453.9,1165.42 454.15,1156.6 454.4,1167.11 454.65,1151.87 454.9,1150.66 455.15,1150.74 455.4,1150.44 455.65,1166.47 455.9,1152.3 456.15,1167.59 456.4,1157.8 456.65,1159.48 456.9,1151.82 457.15,1158.04 457.4,1157.05 457.65,1154.84 457.9,1162.24 458.15,1180.09 458.4,1169.42 458.65,1168.43 458.9,1166.22 459.15,1174.15 459.4,1157.36 459.65,1163.05 459.9,1177 460.15,1168.54 460.4,1164.23 460.65,1164.52 460.9,1176.34 461.15,1181.88 461.4,1166.75 461.65,1180.88 461.9,1176.62 462.15,1181.72 462.4,1169.87 462.65,1166.64 462.9,1168.82 463.15,1183.62 463.4,1163.41 463.65,1172.83 463.9,1181.76 464.15,1162.64 464.4,1170.01 464.65,1174 464.9,1174.04 465.15,1180.4 465.4,1167.68 465.65,1174.45 465.9,1167.59 466.15,1170.87 466.4,1168.82 466.65,1163.61 466.9,1168.33 467.15,1173.22 467.4,1149.45 467.65,1164.86 467.9,1159.93 468.15,1163.03 468.4,1157.85 468.65,1147.6 468.9,1152.35 469.15,1157.08 469.4,1151.26 469.65,1141.72 469.9,1137.98 470.15,1137.56 470.4,1158.09 470.65,1145.89 470.9,1141.27 471.15,1133.3 471.4,1141.87 471.65,1135.49 471.9,1131.04 472.15,1134.52 472.4,1134.87 472.65,1127.41 472.9,1134.8 473.15,1137.93 473.4,1129.95 473.65,1121.77 473.9,1123.51 474.15,1121.87 474.4,1125.66 474.65,1122.67 474.9,1115.74 475.15,1118.63 475.4,1113.16 475.65,1104.48 475.9,1102.36 476.15,1099.95 476.4,1095.07 476.65,1092.52 476.9,1088.12 477.15,1081.19 477.4,1077.39 477.65,1072.8 477.9,1067.46 478.15,1065.95 478.4,1059.25 478.65,1057.51" fill="none" stroke="#22dd22" stroke-width="1.0" stroke-linejoin="round" stroke-dasharray="2,1.5" />
<polyline points="479.6,1027.4 480.6,1120 481.2,1268.5" fill="none" stroke="#22dd22" stroke-width="1.2" stroke-linejoin="round" />
<polyline points="481.2,1268.5 481.55,1259.09 481.9,1268.5 482.25,1254.2 482.6,1268.5 482.95,1253.39 483.3,1268.5 483.65,1258.05 484,1268.5 484.35,1261.45 484.7,1268.5 485.05,1257.79 485.4,1268.5 485.75,1259.97 486.1,1268.5 486.45,1254.08 486.8,1268.5 487.15,1251.49 487.5,1268.5 487.85,1259.3 488.2,1268.5 488.55,1256.08 488.9,1268.5 489.25,1262.12 489.6,1268.5 489.95,1252.61 490.3,1268.5 490.65,1251.58 491,1268.5 491.35,1252.89 491.7,1268.5 492.05,1248.39 492.4,1268.5 492.75,1261.26 493.1,1268.5 493.45,1262.45 493.8,1268.5 494.15,1262.39 494.5,1268.5 494.85,1262.12 495.2,1268.5 495.55,1258.48 495.9,1268.5 496.25,1261.49 496.6,1268.5 496.95,1260.68 497.3,1268.5 497.65,1260.45 498,1268.5 498.35,1250.81 498.7,1268.5 499.05,1258 499.4,1268.5 499.75,1254.54 500.1,1268.5 500.45,1253.54 500.8,1268.5 501.15,1252.43 501.5,1268.5 501.85,1256.57 502.2,1268.5 502.55,1262.32 502.9,1268.5 503.25,1252.18 503.6,1268.5 503.95,1254.16 504.3,1268.5 504.65,1259.51 505,1268.5 505.35,1260.18 505.7,1268.5 506.05,1250.84 506.4,1268.5 506.75,1254.03 507.1,1268.5 507.45,1260.16 507.8,1268.5 508.15,1256.44 508.5,1268.5 508.85,1255.04 509.2,1268.5 509.55,1256.52 509.9,1268.5 510.25,1251.08 510.6,1268.5 510.95,1255.89 511.3,1268.5 511.65,1251.2 512,1268.5 512.35,1258.35 512.7,1268.5 513.05,1252.83 513.4,1268.5 513.75,1255.81 514.1,1268.5 514.45,1256.74 514.8,1268.5 515.15,1255.99 515.5,1268.5 515.85,1258.83 516.2,1268.5 516.55,1262.43 516.9,1268.5 517.25,1252.64" fill="none" stroke="#22dd22" stroke-width="1.0" stroke-linejoin="round" />
<path d="M517.4,1268.5 C517.4,1268.5 517.77,1208.08 518,1180 C518.23,1151.92 518.53,1123.33 518.8,1100 C519.07,1076.67 519.28,1056.67 519.6,1040 C519.92,1023.33 520.3,1008.92 520.7,1000 C521.1,991.08 521.58,987.33 522,986.5 C522.42,985.67 522.8,990.25 523.2,995 C523.6,999.75 524,1006.67 524.4,1015 C524.8,1023.33 525.18,1035 525.6,1045 C526.02,1055 526.43,1064.17 526.9,1075 C527.37,1085.83 527.78,1098.08 528.4,1110 C529.02,1121.92 530.6,1146.5 530.6,1146.5 C530.6,1146.5 531.32,1137.42 531.7,1133 C532.08,1128.58 532.52,1124.67 532.9,1120 C533.28,1115.33 533.63,1109.75 534,1105 C534.37,1100.25 534.63,1095.83 535.1,1091.5 C535.57,1087.17 536.22,1082.82 536.8,1079 C537.38,1075.18 537.73,1072.6 538.6,1068.6 C539.47,1064.6 540.77,1058.6 542,1055 C543.23,1051.4 544.43,1049 546,1047 C547.57,1045 549.5,1044 551.4,1043 C553.3,1042 555.4,1041.43 557.4,1041 C559.4,1040.57 561.23,1040.52 563.4,1040.4 C565.57,1040.28 569.23,1040.32 570.4,1040.3" fill="none" stroke="#22dd22" stroke-width="1.3" stroke-linejoin="round" />
<path d="M518.4,1268.5 C518.4,1268.5 518.77,1208.08 519,1180 C519.23,1151.92 519.53,1123.33 519.8,1100 C520.07,1076.67 520.28,1056.67 520.6,1040 C520.92,1023.33 521.3,1008.92 521.7,1000 C522.1,991.08 522.58,987.33 523,986.5 C523.42,985.67 523.8,990.25 524.2,995 C524.6,999.75 525,1006.67 525.4,1015 C525.8,1023.33 526.18,1035 526.6,1045 C527.02,1055 527.43,1064.17 527.9,1075 C528.37,1085.83 528.78,1098.08 529.4,1110 C530.02,1121.92 531.6,1146.5 531.6,1146.5" fill="none" stroke="#22dd22" stroke-width="1.2" stroke-linejoin="round" stroke-dasharray="2,1.2" />
<polyline points="146,1040.3 146.35,1041.94 146.7,1043.59 147.05,1045.65 147.4,1050.2 147.75,1054.75 148.1,1059.3 148.45,1063.85 148.8,1068.4 149.15,1072.6 149.5,1076.33 149.85,1080.07 150.2,1083.8 150.55,1087.47 150.9,1090.73 151.25,1094 151.6,1097.27 151.95,1100.53 152.3,1102.65 152.65,1104.57 153,1106.5 153.35,1108.42 153.7,1110.35 154.05,1112.25 154.4,1114 154.75,1115.75 155.1,1117.52 155.45,1119.07 155.8,1120.52 156.15,1122.65 156.5,1123.88 156.85,1126.29 157.2,1130.22 157.55,1130.12 157.9,1131.56 158.25,1134.35 158.6,1138.12 158.95,1136.32 159.3,1145.61 159.65,1141.75 160,1148.66 160.35,1150.02 160.7,1152.8 161.05,1150.08 161.4,1149.02 161.75,1151.49 162.1,1159.74 162.45,1154.41 162.8,1157.13 163.15,1163.65 163.5,1158.21 163.85,1166.41 164.2,1164.67 164.55,1168.27 164.9,1162.55 165.25,1172.48 165.6,1170.46 165.95,1175.77 166.3,1165.58 166.65,1163.98 167,1180.58 167.35,1169.42 167.7,1169.36 168.05,1172.35 168.4,1168.79 168.75,1185.9 169.1,1175.23 169.45,1179.29 169.8,1179.6 170.15,1169.28 170.5,1192.05 170.85,1171.05 171.2,1183.58 171.55,1178.39 171.9,1171.98 172.25,1193.35 172.6,1178.89 172.95,1177.65 173.3,1189.19 173.65,1183.47 174,1199.49 174.35,1192 174.7,1186.9 175.05,1183.84 175.4,1201.42 175.75,1203.48 176.1,1191.97 176.45,1188.15 176.8,1182.26 177.15,1185.07 177.5,1213.44 177.85,1191.19 178.2,1194.92 178.55,1197.22 178.9,1198.18 179.25,1211.8 179.6,1192.45 179.95,1191.95 180.3,1204.55 180.65,1213.5 181,1188.1 181.35,1199.05 181.7,1195.52 182.05,1208.02 182.4,1191.98 182.75,1195.15 183.1,1213.59 183.45,1223.8 183.8,1189.41 184.15,1210.86 184.5,1191.7 184.85,1218.27 185.2,1203.44 185.55,1200.1 185.9,1195.96 186.25,1198.67 186.6,1212.8 186.95,1215.3 187.3,1202.54 187.65,1209.31 188,1222.98 188.35,1211.38 188.7,1226.76 189.05,1220.65 189.4,1195.11 189.75,1204.54 190.1,1204.11 190.45,1230.18 190.8,1223.91 191.15,1215.69 191.5,1196.43 191.85,1193.72 192.2,1208.56 192.55,1203.17 192.9,1220.29 193.25,1206.16 193.6,1218.29 193.95,1206.43 194.3,1211.62 194.65,1199.03 195,1197.93 195.35,1202.72 195.7,1198.7 196.05,1195.64 196.4,1199.8 196.75,1204.14 197.1,1210.98 197.45,1224.23 197.8,1224.46 198.15,1198.58 198.5,1211.72 198.85,1202.9 199.2,1212.1 199.55,1222.6 199.9,1198.79 200.25,1218.08 200.6,1206.02 200.95,1224.9 201.3,1211.51 201.65,1220.61 202,1198.36 202.35,1230.62 202.7,1221.79 203.05,1228.51 203.4,1233.47 203.75,1223.86 204.1,1221.56 204.45,1223.81 204.8,1222.77 205.15,1201.51 205.5,1211.25 205.85,1206.48 206.2,1199.3 206.55,1205.91 206.9,1210.54 207.25,1224.76 207.6,1219.32 207.95,1207.92 208.3,1231.74 208.65,1222.89 209,1223.03 209.35,1221.1 209.7,1232.33 210.05,1234.75 210.4,1212.47 210.75,1216.8 211.1,1206.21 211.45,1209.99 211.8,1203.24 212.15,1213.59 212.5,1206.9 212.85,1222.52 213.2,1208.73 213.55,1230.36 213.9,1205.96 214.25,1237.41 214.6,1212.29 214.95,1207.04 215.3,1228.7 215.65,1220.46 216,1240.78 216.35,1222.53 216.7,1221.8 217.05,1212.87 217.4,1219.83 217.75,1237.82 218.1,1215.01 218.45,1219.79 218.8,1205.68 219.15,1232.64 219.5,1210.94 219.85,1232.64 220.2,1243.75 220.55,1216.77 220.9,1227.98 221.25,1231.13 221.6,1226.69 221.95,1242.08 222.3,1224 222.65,1227.09 223,1218.46 223.35,1207.61 223.7,1237.41 224.05,1226.59 224.4,1209.18 224.75,1228.84 225.1,1219.09 225.45,1227.04 225.8,1229.67 226.15,1212.68 226.5,1231.96 226.85,1214.12 227.2,1221.47 227.55,1204.06 227.9,1208.41 228.25,1229.88 228.6,1208.17 228.95,1234.63 229.3,1212.02 229.65,1210.88 230,1224.24 230.35,1206.1 230.7,1231.3 231.05,1232.11 231.4,1213.44 231.75,1233.83 232.1,1225.56 232.45,1211.93 232.8,1206.68 233.15,1215.59 233.5,1215.09 233.85,1218.21 234.2,1213.08 234.55,1209.52 234.9,1211.12 235.25,1211.17 235.6,1223.65 235.95,1231.88 236.3,1225.79 236.65,1235.96 237,1211 237.35,1232.54 237.7,1224.24 238.05,1209.83 238.4,1206.23 238.75,1210.05 239.1,1212.93 239.45,1229.21 239.8,1243.29 240.15,1204.83 240.5,1213.98 240.85,1223.41 241.2,1230.73 241.55,1202.74 241.9,1217.01 242.25,1216.87 242.6,1223.47 242.95,1233.05" fill="none" stroke="#dd2222" stroke-width="1.1" stroke-linejoin="round" />
<polyline points="146,1040.3 146.35,1041.94 146.7,1043.59 147.05,1045.65 147.4,1050.2 147.75,1054.75 148.1,1059.3 148.45,1063.85 148.8,1068.4 149.15,1072.6 149.5,1076.33 149.85,1080.07 150.2,1083.8 150.55,1087.47 150.9,1090.73 151.25,1094 151.6,1097.27 151.95,1100.53 152.3,1102.65 152.65,1104.57 153,1106.5 153.35,1108.42 153.7,1110.35 154.05,1112.25 154.4,1114 154.75,1115.75 155.1,1117.44 155.45,1119.03 155.8,1121.03 156.15,1123.04 156.5,1125.85 156.85,1125.64 157.2,1129.9 157.55,1131.7 157.9,1134.63 158.25,1134.08 158.6,1137.72 158.95,1136.47 159.3,1138.4 159.65,1140.37 160,1143.65 160.35,1147.95 160.7,1152.3 161.05,1150.73 161.4,1151.32 161.75,1155.98 162.1,1153.91 162.45,1156.44 162.8,1157.4 163.15,1154.39 163.5,1155.48 163.85,1162.42 164.2,1169.89 164.55,1161.7 164.9,1161.62 165.25,1174.42 165.6,1177.18 165.95,1175.85 166.3,1171.29 166.65,1167.4 167,1172.99 167.35,1172.33 167.7,1180.4 168.05,1169.62 168.4,1180.51 168.75,1182.76 169.1,1172.55 169.45,1169.29 169.8,1185.33 170.15,1175.48 170.5,1186.32 170.85,1171.1 171.2,1171.45 171.55,1183.61 171.9,1202.19 172.25,1190.02 172.6,1172.61 172.95,1183.45 173.3,1198.58 173.65,1176 174,1186.23 174.35,1185.28 174.7,1203.42 175.05,1201.67 175.4,1200.12 175.75,1203.23 176.1,1186.18 176.45,1194.12 176.8,1184.12 177.15,1194.56 177.5,1182.21 177.85,1212.6 178.2,1191.2 178.55,1209.38 178.9,1202.31 179.25,1219.72 179.6,1186.69 179.95,1188.39 180.3,1187.54 180.65,1201.57 181,1195.43 181.35,1210.3 181.7,1202.38 182.05,1215.43 182.4,1206.72 182.75,1193.11 183.1,1203.5 183.45,1187.5 183.8,1197.88 184.15,1200 184.5,1204.4 184.85,1215.96 185.2,1202.78 185.55,1219.78 185.9,1226.15 186.25,1206.39 186.6,1199.16 186.95,1219.22 187.3,1228.65 187.65,1196.37 188,1206.79 188.35,1193.82 188.7,1208.89 189.05,1220.11 189.4,1202.48 189.75,1214.12 190.1,1218.86 190.45,1200.18 190.8,1192.65 191.15,1200.41 191.5,1227.55 191.85,1201.6 192.2,1201.98 192.55,1221.24 192.9,1220.96 193.25,1213.13 193.6,1217.29 193.95,1215.09 194.3,1218.96 194.65,1196.06 195,1206.11 195.35,1202.14 195.7,1206.71 196.05,1225.22 196.4,1213.31 196.75,1202.8 197.1,1199.08 197.45,1237.1 197.8,1199.16 198.15,1199.91 198.5,1206.15 198.85,1198.39 199.2,1232.89 199.55,1228.22 199.9,1224.32 200.25,1232.68 200.6,1203.06 200.95,1208.57 201.3,1203.65 201.65,1210.77 202,1200.02 202.35,1215.43 202.7,1229.81 203.05,1208.5 203.4,1227.89 203.75,1228.34 204.1,1225.5 204.45,1198.76 204.8,1217.1 205.15,1217.9 205.5,1233.87 205.85,1227.7 206.2,1226.36 206.55,1238.9 206.9,1220.76 207.25,1217.37 207.6,1227.46 207.95,1224.4 208.3,1225.74 208.65,1209.9 209,1199.73 209.35,1207.73 209.7,1216.26 210.05,1221.1 210.4,1207.06 210.75,1231.03 211.1,1214.99 211.45,1210.37 211.8,1220.71 212.15,1216.55 212.5,1227.94 212.85,1207.36 213.2,1210.53 213.55,1221.6 213.9,1239.33 214.25,1207.96 214.6,1213.45 214.95,1212.11 215.3,1229.45 215.65,1240 216,1225.43 216.35,1225.75 216.7,1209.69 217.05,1224.29 217.4,1235.79 217.75,1242.23 218.1,1205.31 218.45,1228.87 218.8,1230.63 219.15,1239.37 219.5,1231.18 219.85,1205.32 220.2,1229.26 220.55,1231.43 220.9,1232.8 221.25,1231.48 221.6,1233.39 221.95,1236.81 222.3,1218.52 222.65,1225.66 223,1232.24 223.35,1203.79 223.7,1225.71 224.05,1217.53 224.4,1212.01 224.75,1210.9 225.1,1232.63 225.45,1220.84 225.8,1216.46 226.15,1231.83 226.5,1202.43 226.85,1231.71 227.2,1207.26 227.55,1232.65 227.9,1227.36 228.25,1222.71 228.6,1234.05 228.95,1203.22 229.3,1221.73 229.65,1217.1 230,1212.15 230.35,1230.28 230.7,1215.34 231.05,1216.73 231.4,1231.24 231.75,1231.95 232.1,1230.22 232.45,1218.28 232.8,1211.24 233.15,1225.15 233.5,1220.68 233.85,1232.32 234.2,1205.1 234.55,1213.11 234.9,1217.91 235.25,1218.45 235.6,1202.05 235.95,1210.61 236.3,1222.22 236.65,1204.88 237,1217.42 237.35,1233.04 237.7,1241.81 238.05,1209.5 238.4,1227.53 238.75,1230.89 239.1,1215.64 239.45,1232.27 239.8,1217.43 240.15,1228.92 240.5,1212.96 240.85,1208.89 241.2,1227.71 241.55,1231.35 241.9,1227.52 242.25,1227.91 242.6,1207.64 242.95,1211.71" fill="none" stroke="#dd2222" stroke-width="1.0" stroke-linejoin="round" stroke-dasharray="2,1.5" />
<path d="M243.5,1216 C243.5,1216 244.27,1203.5 244.6,1195 C244.93,1186.5 245.18,1174.17 245.5,1165 C245.82,1155.83 245.98,1147.83 246.5,1140 C247.02,1132.17 247.87,1126 248.6,1118 C249.33,1110 250.13,1099.17 250.9,1092 C251.67,1084.83 252.35,1079.92 253.2,1075 C254.05,1070.08 255.03,1065.83 256,1062.5 C256.97,1059.17 258,1057.08 259,1055 C260,1052.92 260.83,1051.67 262,1050 C263.17,1048.33 264.67,1046.23 266,1045 C267.33,1043.77 268.5,1043.27 270,1042.6 C271.5,1041.93 273.33,1041.35 275,1041 C276.67,1040.65 278.33,1040.62 280,1040.5 C281.67,1040.38 284.17,1040.33 285,1040.3" fill="none" stroke="#dd2222" stroke-width="1.4" stroke-linejoin="round" />
<polyline points="431.4,1040.3 431.75,1041.94 432.1,1043.59 432.45,1045.65 432.8,1050.2 433.15,1054.75 433.5,1059.3 433.85,1063.85 434.2,1068.4 434.55,1072.6 434.9,1076.33 435.25,1080.07 435.6,1083.8 435.95,1087.47 436.3,1090.73 436.65,1094 437,1097.27 437.35,1100.53 437.7,1102.65 438.05,1104.57 438.4,1106.5 438.75,1108.42 439.1,1110.35 439.45,1112.25 439.8,1114 440.15,1115.75 440.5,1117.56 440.85,1119.54 441.2,1121.91 441.55,1122.61 441.9,1125.83 442.25,1126.97 442.6,1129.2 442.95,1129.5 443.3,1130.96 443.65,1136.53 444,1138.81 444.35,1138.71 444.7,1140.79 445.05,1141.05 445.4,1149.25 445.75,1143.56 446.1,1145.26 446.45,1150.37 446.8,1156.61 447.15,1156.73 447.5,1155.39 447.85,1161.55 448.2,1152.87 448.55,1161.99 448.9,1165.75 449.25,1160.78 449.6,1159.06 449.95,1167.38 450.3,1162.9 450.65,1159.6 451,1164.9 451.35,1181.3 451.7,1172.4 452.05,1169.09 452.4,1172.36 452.75,1174.57 453.1,1175.11 453.45,1165.64 453.8,1166.17 454.15,1170.64 454.5,1172.97 454.85,1174.38 455.2,1171.92 455.55,1174.41 455.9,1188.76 456.25,1190.97 456.6,1173.58 456.95,1175.79 457.3,1178.59 457.65,1186.03 458,1196.68 458.35,1192.34 458.7,1195.76 459.05,1180.52 459.4,1182.79 459.75,1195.25 460.1,1182.25 460.45,1186.19 460.8,1186.67 461.15,1193.46 461.5,1206.01 461.85,1202.77 462.2,1206.69 462.55,1210.69 462.9,1180.62 463.25,1189.62 463.6,1210.58 463.95,1206.41 464.3,1195.04 464.65,1181.9 465,1207.76 465.35,1203.79 465.7,1209.23 466.05,1188.31 466.4,1210.78 466.75,1207.78 467.1,1194.66 467.45,1209.24 467.8,1201.23 468.15,1199.31 468.5,1203.46 468.85,1193.6 469.2,1197.74 469.55,1215.79 469.9,1189.27 470.25,1198.03 470.6,1190.73 470.95,1199.05 471.3,1191.75 471.65,1202.4 472,1190.5 472.35,1205.61 472.7,1194.43 473.05,1189.78 473.4,1199.49 473.75,1220.31 474.1,1190.61 474.45,1228.56 474.8,1221.06 475.15,1210.35 475.5,1197.08 475.85,1228.14 476.2,1218.69 476.55,1195.93 476.9,1208.71 477.25,1198.76 477.6,1197.97 477.95,1233.93 478.3,1204.23 478.65,1210.05 479,1194.36 479.35,1225.28 479.7,1203.31 480.05,1215.45 480.4,1212.39 480.75,1202.98 481.1,1211.89 481.45,1215.5 481.8,1199.42 482.15,1214.35 482.5,1207.41 482.85,1213.14 483.2,1204.39 483.55,1202.69 483.9,1227.95 484.25,1208.01 484.6,1202.42 484.95,1231.17 485.3,1209.75 485.65,1218.34 486,1208.93 486.35,1216.72 486.7,1231.19 487.05,1215.95 487.4,1200.91 487.75,1225.01 488.1,1212.79 488.45,1203.71 488.8,1225.59 489.15,1215.82 489.5,1198.23 489.85,1232.55 490.2,1217.83 490.55,1217.76 490.9,1225.19 491.25,1207.99 491.6,1208.02 491.95,1213.26 492.3,1214.27 492.65,1233.69 493,1210.16 493.35,1212.02 493.7,1234.63 494.05,1212.46 494.4,1205.2 494.75,1205.06 495.1,1209.9 495.45,1214.85 495.8,1206.37 496.15,1230.85 496.5,1236.18 496.85,1226.57 497.2,1222.05 497.55,1228.05 497.9,1218.82 498.25,1222.48 498.6,1213 498.95,1213.3 499.3,1226.29 499.65,1217.51 500,1223.68 500.35,1231.9 500.7,1226.03 501.05,1220.05 501.4,1230.94 501.75,1202.27 502.1,1221.34 502.45,1234.75 502.8,1223.97 503.15,1226.62 503.5,1211.25 503.85,1202.26 504.2,1231.3 504.55,1211.29 504.9,1201.02 505.25,1202.92 505.6,1242.01 505.95,1227.04 506.3,1206.33 506.65,1208.34 507,1222.69 507.35,1209.08 507.7,1207.2 508.05,1226.97 508.4,1215.09 508.75,1219.99 509.1,1214.46 509.45,1201.42 509.8,1228.31 510.15,1219.45 510.5,1215.43 510.85,1220.22 511.2,1230.64 511.55,1216.18 511.9,1225.58 512.25,1232.81 512.6,1230.16 512.95,1202.44 513.3,1242.88 513.65,1223.92 514,1209.81 514.35,1219.62 514.7,1219.27 515.05,1221.19 515.4,1233.81 515.75,1219.89 516.1,1203.16 516.45,1222.94 516.8,1214.69 517.15,1237.45 517.5,1205.72 517.85,1226.31 518.2,1212.96 518.55,1218.46 518.9,1224.64 519.25,1232.4 519.6,1202.35 519.95,1236.78 520.3,1231.94 520.65,1226.54 521,1229.68 521.35,1223.1 521.7,1202.56 522.05,1211.3 522.4,1224.43 522.75,1208.05 523.1,1228.5 523.45,1212.76 523.8,1232.79 524.15,1218.18 524.5,1222.91 524.85,1227.31 525.2,1209.17 525.55,1212.1 525.9,1205.85 526.25,1222.65 526.6,1223.06 526.95,1216.3 527.3,1244.36 527.65,1223.72 528,1221.4 528.35,1240.09" fill="none" stroke="#dd2222" stroke-width="1.1" stroke-linejoin="round" />
<polyline points="431.4,1040.3 431.75,1041.94 432.1,1043.59 432.45,1045.65 432.8,1050.2 433.15,1054.75 433.5,1059.3 433.85,1063.85 434.2,1068.4 434.55,1072.6 434.9,1076.33 435.25,1080.07 435.6,1083.8 435.95,1087.47 436.3,1090.73 436.65,1094 437,1097.27 437.35,1100.53 437.7,1102.65 438.05,1104.57 438.4,1106.5 438.75,1108.42 439.1,1110.35 439.45,1112.25 439.8,1114 440.15,1115.75 440.5,1117.46 440.85,1119.05 441.2,1121.31 441.55,1124.11 441.9,1125.74 442.25,1127.98 442.6,1129.56 442.95,1131.03 443.3,1134.38 443.65,1133.09 444,1138.21 444.35,1138.71 444.7,1140.37 445.05,1142.26 445.4,1148.63 445.75,1148.07 446.1,1148.29 446.45,1154.16 446.8,1150.14 447.15,1158.69 447.5,1153.9 447.85,1152.96 448.2,1163.19 448.55,1157.85 448.9,1165.89 449.25,1161.28 449.6,1167.12 449.95,1169.48 450.3,1170.51 450.65,1165.04 451,1169.33 451.35,1163.01 451.7,1180.59 452.05,1181.58 452.4,1165.49 452.75,1171.11 453.1,1169.99 453.45,1166.79 453.8,1180.52 454.15,1188.52 454.5,1171.62 454.85,1193.46 455.2,1182.31 455.55,1170.64 455.9,1196.1 456.25,1194.33 456.6,1179.76 456.95,1183.9 457.3,1189.29 457.65,1176.72 458,1180.26 458.35,1193.88 458.7,1174.81 459.05,1193.04 459.4,1182.6 459.75,1190.33 460.1,1188.83 460.45,1197.46 460.8,1204.27 461.15,1180.36 461.5,1204.85 461.85,1198.24 462.2,1208.27 462.55,1182.6 462.9,1193.56 463.25,1192.5 463.6,1181 463.95,1181.57 464.3,1209.28 464.65,1182.74 465,1181.77 465.35,1186.69 465.7,1223.95 466.05,1213.08 466.4,1195.5 466.75,1211.04 467.1,1211.53 467.45,1185.17 467.8,1193.41 468.15,1213.46 468.5,1186.96 468.85,1209.01 469.2,1208.92 469.55,1213.87 469.9,1189.92 470.25,1224.14 470.6,1216.5 470.95,1218.25 471.3,1194 471.65,1215.11 472,1226.45 472.35,1210.58 472.7,1218.14 473.05,1197.35 473.4,1210.52 473.75,1227.19 474.1,1227.82 474.45,1232.98 474.8,1192.51 475.15,1203.65 475.5,1219.86 475.85,1201.99 476.2,1209.94 476.55,1210.71 476.9,1227.29 477.25,1203.23 477.6,1208.92 477.95,1218.46 478.3,1223.35 478.65,1221.69 479,1224.26 479.35,1217.89 479.7,1200.87 480.05,1197.08 480.4,1196.42 480.75,1208.84 481.1,1235.7 481.45,1201.53 481.8,1196.84 482.15,1214.1 482.5,1226.07 482.85,1207.09 483.2,1212.01 483.55,1207.56 483.9,1203.44 484.25,1224.7 484.6,1219.64 484.95,1212.1 485.3,1217.72 485.65,1211.15 486,1229.04 486.35,1231.04 486.7,1217.17 487.05,1236.01 487.4,1225 487.75,1220.41 488.1,1226.78 488.45,1223.13 488.8,1216.13 489.15,1214.44 489.5,1200.76 489.85,1202.95 490.2,1213.99 490.55,1208.1 490.9,1223.31 491.25,1230.37 491.6,1222.83 491.95,1228.92 492.3,1216.86 492.65,1218.84 493,1202.64 493.35,1211.3 493.7,1216.3 494.05,1219.86 494.4,1214.77 494.75,1219.63 495.1,1211.48 495.45,1220.38 495.8,1204.23 496.15,1200.54 496.5,1226.6 496.85,1200.67 497.2,1236.69 497.55,1227.18 497.9,1225.83 498.25,1223.41 498.6,1211.09 498.95,1200.66 499.3,1210.25 499.65,1207.45 500,1231.05 500.35,1207.03 500.7,1228.5 501.05,1219.07 501.4,1228.68 501.75,1218.54 502.1,1205.48 502.45,1208.3 502.8,1232.22 503.15,1214.24 503.5,1230.15 503.85,1229.95 504.2,1229.78 504.55,1201.52 504.9,1229.25 505.25,1208.76 505.6,1222.32 505.95,1214.2 506.3,1204.47 506.65,1240.56 507,1218.29 507.35,1210.53 507.7,1219.4 508.05,1232.89 508.4,1229.94 508.75,1213.28 509.1,1205.23 509.45,1220.7 509.8,1232.51 510.15,1217.1 510.5,1224.34 510.85,1210.05 511.2,1243.1 511.55,1226.32 511.9,1239.97 512.25,1205.04 512.6,1214.94 512.95,1232.62 513.3,1228.08 513.65,1213.79 514,1226.01 514.35,1231.99 514.7,1237.07 515.05,1218.28 515.4,1219.87 515.75,1213.63 516.1,1218.53 516.45,1236.49 516.8,1243.3 517.15,1230.25 517.5,1227.95 517.85,1203.97 518.2,1209.69 518.55,1220.33 518.9,1230.28 519.25,1222.24 519.6,1219.56 519.95,1211.56 520.3,1216.53 520.65,1217.25 521,1230.66 521.35,1232.4 521.7,1223.65 522.05,1209.52 522.4,1223.01 522.75,1209.67 523.1,1208.63 523.45,1215.97 523.8,1221.63 524.15,1227.77 524.5,1225.47 524.85,1225.82 525.2,1206.42 525.55,1226.14 525.9,1232.89 526.25,1226.95 526.6,1232.21 526.95,1235.83 527.3,1237.55 527.65,1244.36 528,1208.86 528.35,1242.75" fill="none" stroke="#dd2222" stroke-width="1.0" stroke-linejoin="round" stroke-dasharray="2,1.5" />
<path d="M528.9,1216 C528.9,1216 529.67,1203.5 530,1195 C530.33,1186.5 530.58,1174.17 530.9,1165 C531.22,1155.83 531.38,1147.83 531.9,1140 C532.42,1132.17 533.27,1126 534,1118 C534.73,1110 535.53,1099.17 536.3,1092 C537.07,1084.83 537.75,1079.92 538.6,1075 C539.45,1070.08 540.43,1065.83 541.4,1062.5 C542.37,1059.17 543.4,1057.08 544.4,1055 C545.4,1052.92 546.23,1051.67 547.4,1050 C548.57,1048.33 550.07,1046.23 551.4,1045 C552.73,1043.77 553.9,1043.27 555.4,1042.6 C556.9,1041.93 558.73,1041.35 560.4,1041 C562.07,1040.65 563.73,1040.62 565.4,1040.5 C567.07,1040.38 569.57,1040.33 570.4,1040.3" fill="none" stroke="#dd2222" stroke-width="1.4" stroke-linejoin="round" />
<line x1="157" y1="1048" x2="567" y2="1088.3" stroke="#111" stroke-width="1.4" />
<polygon points="581.5,1089.4 562.1,1080.2 566.7,1088.4 560.3,1095.3" fill="#111"/>
<rect x="265.3" y="953.1" width="133.3" height="65.4" fill="white" stroke="#2b2b2b" stroke-width="1.25"/>
<line x1="277.2" y1="971.2" x2="339.8" y2="971.2" stroke="#2c2ce0" stroke-width="1.5" />
<text x="348.1" y="978.6" font-size="20.5" text-anchor="start" font-weight="normal" >Pur1</text>
<line x1="277.2" y1="999.9" x2="339.8" y2="999.9" stroke="#4a4ae0" stroke-width="1.1" stroke-dasharray="2.2,1.4"/>
<text x="348.1" y="1007.3" font-size="20.5" text-anchor="start" font-weight="normal" >Pur2</text>
<rect x="259.4" y="1149.2" width="144.9" height="123.6" fill="white" stroke="#2b2b2b" stroke-width="1.25"/>
<line x1="272.4" y1="1167" x2="335" y2="1167" stroke="#2ee02e" stroke-width="1.6" />
<text x="342.6" y="1174.4" font-size="20.5" text-anchor="start" font-weight="normal" >SOL1</text>
<line x1="272.4" y1="1196" x2="335" y2="1196" stroke="#30dc30" stroke-width="1.3" stroke-dasharray="2.2,1.4"/>
<text x="342.6" y="1203.4" font-size="20.5" text-anchor="start" font-weight="normal" >SOL2</text>
<line x1="272.4" y1="1225.2" x2="335" y2="1225.2" stroke="#dc4a4a" stroke-width="1.1" />
<text x="342.6" y="1232.6" font-size="20.5" text-anchor="start" font-weight="normal" >HFO1</text>
<line x1="272.4" y1="1254.2" x2="335" y2="1254.2" stroke="#e05050" stroke-width="1.1" stroke-dasharray="2.2,1.4"/>
<text x="342.6" y="1261.6" font-size="20.5" text-anchor="start" font-weight="normal" >HFO2</text>
<rect x="582.2" y="1110.6" width="183.3" height="104.4" fill="white" stroke="#2b2b2b" stroke-width="1.4"/>
<line x1="582.2" y1="1110.7" x2="585.7" y2="1110.7" stroke="#2b2b2b" stroke-width="1.3" />
<line x1="765.5" y1="1110.7" x2="762" y2="1110.7" stroke="#2b2b2b" stroke-width="1.3" />
<text x="574.9" y="1118" font-size="20.5" text-anchor="end" font-weight="normal" >0.2</text>
<line x1="582.2" y1="1145.3" x2="585.7" y2="1145.3" stroke="#2b2b2b" stroke-width="1.3" />
<line x1="765.5" y1="1145.3" x2="762" y2="1145.3" stroke="#2b2b2b" stroke-width="1.3" />
<text x="574.9" y="1152.6" font-size="20.5" text-anchor="end" font-weight="normal" >0</text>
<line x1="582.2" y1="1179.9" x2="585.7" y2="1179.9" stroke="#2b2b2b" stroke-width="1.3" />
<line x1="765.5" y1="1179.9" x2="762" y2="1179.9" stroke="#2b2b2b" stroke-width="1.3" />
<text x="574.9" y="1187.2" font-size="20.5" text-anchor="end" font-weight="normal" >-0.2</text>
<line x1="582.2" y1="1214.5" x2="585.7" y2="1214.5" stroke="#2b2b2b" stroke-width="1.3" />
<line x1="765.5" y1="1214.5" x2="762" y2="1214.5" stroke="#2b2b2b" stroke-width="1.3" />
<text x="574.9" y="1221.8" font-size="20.5" text-anchor="end" font-weight="normal" >-0.4</text>
<line x1="582.2" y1="1215" x2="582.2" y2="1211.5" stroke="#2b2b2b" stroke-width="1.3" />
<line x1="582.2" y1="1110.6" x2="582.2" y2="1114.1" stroke="#2b2b2b" stroke-width="1.3" />
<line x1="618.86" y1="1215" x2="618.86" y2="1211.5" stroke="#2b2b2b" stroke-width="1.3" />
<line x1="618.86" y1="1110.6" x2="618.86" y2="1114.1" stroke="#2b2b2b" stroke-width="1.3" />
<text x="618.86" y="1240.3" font-size="20.5" text-anchor="middle" font-weight="normal" >1.6</text>
<line x1="692.18" y1="1215" x2="692.18" y2="1211.5" stroke="#2b2b2b" stroke-width="1.3" />
<line x1="692.18" y1="1110.6" x2="692.18" y2="1114.1" stroke="#2b2b2b" stroke-width="1.3" />
<text x="692.18" y="1240.3" font-size="20.5" text-anchor="middle" font-weight="normal" >1.8</text>
<line x1="765.5" y1="1215" x2="765.5" y2="1211.5" stroke="#2b2b2b" stroke-width="1.3" />
<line x1="765.5" y1="1110.6" x2="765.5" y2="1114.1" stroke="#2b2b2b" stroke-width="1.3" />
<text x="765.5" y="1240.3" font-size="20.5" text-anchor="middle" font-weight="normal" >2</text>
<text x="757.5" y="1274" font-size="20.5" text-anchor="end" font-weight="normal" >x 10</text>
<text x="758.8" y="1261.6" font-size="13.2" text-anchor="start" font-weight="normal" >4</text>
<clipPath id="ic"><rect x="582.2" y="1110.6" width="183.29999999999995" height="104.40000000000009"/></clipPath>
<g clip-path="url(#ic)">
<polyline points="582.2,1145.37 583,1145.5 583.8,1145.49 584.6,1145.09 585.4,1145.66 586.2,1145.66 587,1145.43 587.8,1145.5 588.6,1145.2 589.4,1145.39 590.2,1145.7 591,1145.75 591.8,1145.66 592.6,1145.35 593.4,1145.54 594.2,1146.07 595,1145.72 595.8,1145.93 596.6,1145.79 597.4,1146.15 598.2,1146.34 599,1146.08 599.8,1146.02 600.6,1146.17 601.4,1146.05 602.2,1146.32 603,1146.7 603.8,1146.43 604.6,1147.07 605.4,1147.87 606.2,1147.28 607,1146.97 607.8,1147.45 608.6,1146.66 609.4,1147.75 610.2,1147.98 611,1148.78 611.8,1148.54 612.6,1148.91 613.4,1148.78 614.2,1149.59 615,1149.15 615.8,1149.42 616.6,1150.1 617.4,1150.26 618.2,1150.85 619,1151.05 619.8,1151.22 620.6,1152.22 621.4,1151.44 622.2,1153.33 623,1153.16 623.8,1153.76 624.6,1154.02 625.4,1154 626.2,1154.38 627,1155.65 627.8,1155.95 628.6,1156.24 629.4,1156.06 630.2,1156.5 631,1157.06 631.8,1158.29 632.6,1158.66 633.4,1158.49 634.2,1158.87 635,1159.18 635.8,1159.55 636.6,1160.68 637.4,1160.5 638.2,1160.37 639,1161.67 639.8,1161.52 640.6,1162.47 641.4,1162.75 642.2,1162.81 643,1163.16 643.8,1164.3 644.6,1164.11 645.4,1165.07 646.2,1164.63 647,1165.43 647.8,1166.2 648.6,1166.94 649.4,1166.96 650.2,1168.01 651,1167.89 651.8,1169.15 652.6,1169.79 653.4,1169.53 654.2,1169.39 655,1171.02 655.8,1171.05 656.6,1171.53 657.4,1172.03 658.2,1172.25 659,1172.6 659.8,1173.04 660.6,1172.42 661.4,1173.53 662.2,1173.56 663,1175.14 663.8,1174.82 664.6,1174.5 665.4,1175.38 666.2,1174.53 667,1176.59 667.8,1177.34 668.6,1177.13 669.4,1177.17 670.2,1178.16 671,1178.33 671.8,1178.81 672.6,1180.22 673.4,1180.57 674.2,1181.12 675,1182.07 675.8,1182.54 676.6,1182.14 677.4,1183.07 678.2,1184.22 679,1183.92 679.8,1186.5 680.6,1183.7 681.4,1185.14 682.2,1185.57 683,1185.44 683.8,1185.52 684.6,1187.5 685.4,1187.89 686.2,1187.51 687,1188.74 687.8,1187.92 688.6,1189.56 689.4,1188.43 690.2,1188.42 691,1189.46 691.8,1190.54 692.6,1189.12 693.4,1190.03 694.2,1191.51 695,1190.65 695.8,1192.65 696.6,1192.08 697.4,1192.49 698.2,1193.05 699,1193.42 699.8,1193.2 700.6,1192.95 701.4,1193.67 702.2,1194.67 703,1193.29 703.8,1194.62 704.6,1195.98 705.4,1194.21 706.2,1195.53 707,1196.52 707.8,1196.31 708.6,1196.4 709.4,1197.84 710.2,1196.83 711,1196.6 711.8,1198.44 712.6,1197.78 713.4,1199.6 714.2,1198.89 715,1199.26 715.8,1198.75 716.6,1200.65 717.4,1199.58 718.2,1201.25 719,1199.73 719.8,1202.34 720.6,1202.96 721.4,1202.65 722.2,1202.5 723,1202.98 723.8,1202.3 724.6,1202.28 725.4,1203.23 726.2,1204.64 727,1203.14 727.8,1201.32 728.6,1204.9 729.4,1205.95 730.2,1205.2 731,1205.93 731.8,1207.06 732.6,1205.26 733.4,1205.81 734.2,1206.99 735,1207.43 735.8,1207.05 736.6,1207.35 737.4,1208.3 738.2,1207.94 739,1209.42 739.8,1209.6 740.6,1208.32 741.4,1208.57 742.2,1210.02 743,1210.93 743.8,1209.84 744.6,1209.37 745.4,1209.66 746.2,1212.06 747,1210.54 747.8,1212.58 748.6,1212.45 749.4,1212.22 750.2,1211.52 751,1212.66 751.8,1212.34 752.6,1213.64 753.4,1213.81 754.2,1214.15 755,1213.76 755.8,1214.34 756.6,1211.1 757.4,1212.08" fill="none" stroke="#2020d8" stroke-width="1.3" stroke-linejoin="round" />
<polyline points="582.2,1145.53 583,1145.79 583.8,1145.33 584.6,1145.45 585.4,1145.38 586.2,1145.22 587,1145.37 587.8,1145.7 588.6,1145.35 589.4,1145.32 590.2,1145.39 591,1145.29 591.8,1145.52 592.6,1145.76 593.4,1145.7 594.2,1145.55 595,1145.72 595.8,1146.04 596.6,1145.43 597.4,1145.87 598.2,1146.04 599,1146.08 599.8,1146.21 600.6,1146.44 601.4,1146.15 602.2,1146.53 603,1146.58 603.8,1147.5 604.6,1146.36 605.4,1146.72 606.2,1147.18 607,1147.4 607.8,1147.33 608.6,1148.17 609.4,1149.12 610.2,1147.76 611,1148.52 611.8,1148.65 612.6,1148.61 613.4,1148.94 614.2,1149.3 615,1149.73 615.8,1149.69 616.6,1149.95 617.4,1151.14 618.2,1151.55 619,1151.22 619.8,1152.12 620.6,1152.48 621.4,1153.28 622.2,1153.32 623,1154.3 623.8,1154.04 624.6,1154.46 625.4,1155.69 626.2,1155.41 627,1155.99 627.8,1156.65 628.6,1156.9 629.4,1158.41 630.2,1157.96 631,1158.72 631.8,1159.35 632.6,1160.31 633.4,1161.06 634.2,1161.47 635,1161.65 635.8,1162.49 636.6,1163.15 637.4,1163.14 638.2,1163.85 639,1164.01 639.8,1164.83 640.6,1165.43 641.4,1166.67 642.2,1165.03 643,1167.08 643.8,1168.73 644.6,1169.02 645.4,1169.4 646.2,1169.41 647,1170.89 647.8,1171.74 648.6,1172.09 649.4,1172.99 650.2,1173.97 651,1173.37 651.8,1175.22 652.6,1175.12 653.4,1176.27 654.2,1176.51 655,1177.22 655.8,1178.19 656.6,1177.57 657.4,1178.14 658.2,1179.48 659,1179.94 659.8,1180.36 660.6,1181.45 661.4,1182.38 662.2,1182.31 663,1184.01 663.8,1184.39 664.6,1184.22 665.4,1185.59 666.2,1184.6 667,1185.14 667.8,1187.03 668.6,1187.28 669.4,1187.5 670.2,1187.83 671,1187.33 671.8,1188.48 672.6,1188.29 673.4,1188.27 674.2,1189.4 675,1190.15 675.8,1190.43 676.6,1191.68 677.4,1191.88 678.2,1191.91 679,1191.88 679.8,1192.85 680.6,1192.36 681.4,1192.27 682.2,1193.61 683,1194.22 683.8,1195 684.6,1194.87 685.4,1195.27 686.2,1196.04 687,1195.78 687.8,1196.22 688.6,1195.38 689.4,1197.21 690.2,1197.71 691,1196.25 691.8,1197.02 692.6,1197.93 693.4,1198.82 694.2,1197.93 695,1198.94 695.8,1199.31 696.6,1200.02 697.4,1198.97 698.2,1200.03 699,1199.25 699.8,1200.99 700.6,1199.61 701.4,1201.76 702.2,1201.81 703,1201.33 703.8,1202.74 704.6,1201.49 705.4,1203.39 706.2,1201.39 707,1202.92 707.8,1202.26 708.6,1203.5 709.4,1203.98 710.2,1202.72 711,1204.83 711.8,1203.84 712.6,1204.88 713.4,1204.13 714.2,1205.84 715,1204.23 715.8,1204.54 716.6,1204.7 717.4,1204.76 718.2,1206.44 719,1206.77 719.8,1207.23 720.6,1206.69 721.4,1205.6 722.2,1205.68 723,1206.6 723.8,1207.5 724.6,1206.24 725.4,1207.51 726.2,1206.66 727,1207.43 727.8,1207.87 728.6,1209.1 729.4,1208.81 730.2,1207.85 731,1208.44 731.8,1209.21 732.6,1208.5 733.4,1208.94 734.2,1209.78 735,1208.75 735.8,1210.23 736.6,1208.46 737.4,1209.06 738.2,1208.82 739,1209 739.8,1211.23 740.6,1209.9 741.4,1209.3 742.2,1212.62 743,1211.13 743.8,1209.43 744.6,1210.6 745.4,1210.93 746.2,1210.23 747,1210.88 747.8,1210.12 748.6,1212.32 749.4,1211.39 750.2,1211.18 751,1211.36 751.8,1212.53 752.6,1212.58 753.4,1210.51 754.2,1211.49 755,1212.52 755.8,1211.49 756.6,1212.45 757.4,1211.03 758.2,1211.73 759,1213.15 759.8,1211.82 760.6,1211.98 761.4,1212.5 762.2,1211.35 763,1211.17 763.8,1213.19 764.6,1210.09" fill="none" stroke="#22dd22" stroke-width="1.3" stroke-linejoin="round" />
<polyline points="582.2,1145.5 583,1145.63 583.8,1145.69 584.6,1146.91 585.4,1146.21 586.2,1146.58 587,1147.12 587.8,1147.47 588.6,1148.44 589.4,1148.38 590.2,1149.19 591,1149.51 591.8,1150.11 592.6,1150.54 593.4,1151.34 594.2,1152.4 595,1153.04 595.8,1153.53 596.6,1154.57 597.4,1155.49 598.2,1155.87 599,1156.6 599.8,1157.34 600.6,1158.28 601.4,1159.31 602.2,1159.83 603,1160.87 603.8,1161.84 604.6,1161.99 605.4,1163.26 606.2,1163.49 607,1164.26 607.8,1165.35 608.6,1165.65 609.4,1165.9 610.2,1166.94 611,1167.2 611.8,1167.6 612.6,1168.51 613.4,1169.83 614.2,1169.58 615,1170.74 615.8,1171.44 616.6,1171.45 617.4,1171.73 618.2,1173.06 619,1173.57 619.8,1171.95 620.6,1174.31 621.4,1172.28 622.2,1175.39 623,1177.04 623.8,1175.88 624.6,1176.48 625.4,1176.71 626.2,1177.65 627,1176.6 627.8,1177.03 628.6,1178.03 629.4,1179.12 630.2,1178.02 631,1179.71 631.8,1179.89 632.6,1178.65 633.4,1180.56 634.2,1181.17 635,1180.08 635.8,1180.61 636.6,1180.82 637.4,1181.43 638.2,1181.9 639,1182.69 639.8,1181.96 640.6,1183.43 641.4,1183.55 642.2,1183.02 643,1184.15 643.8,1185.43 644.6,1185.3 645.4,1185.97 646.2,1185.25 647,1185.55 647.8,1187.4 648.6,1187.18 649.4,1188.35 650.2,1188.3 651,1187.08 651.8,1189.25 652.6,1187.73 653.4,1188.92 654.2,1190.12 655,1189.75 655.8,1189.39 656.6,1191.26 657.4,1192.02 658.2,1191.04 659,1192.97 659.8,1193.24 660.6,1191.73 661.4,1191.09 662.2,1193.61 663,1192.9 663.8,1195.27 664.6,1194.53 665.4,1195.64 666.2,1195.42 667,1196.84 667.8,1195.85 668.6,1196.46 669.4,1196.5 670.2,1197.04 671,1197.06 671.8,1198.68 672.6,1198.76 673.4,1195.75 674.2,1199.73 675,1198.88 675.8,1199.53 676.6,1199.16 677.4,1199.43 678.2,1200.91 679,1199.66 679.8,1201.25 680.6,1200.08 681.4,1200.4 682.2,1200.55 683,1202.07 683.8,1201.22 684.6,1201.33 685.4,1201.93 686.2,1201.7 687,1202.12 687.8,1202.88 688.6,1203.86 689.4,1204.67 690.2,1203.49 691,1205.15 691.8,1204.28 692.6,1205.85 693.4,1205.3 694.2,1206.81 695,1206.46 695.8,1206.47 696.6,1205.66 697.4,1206.5 698.2,1206.87 699,1207.05 699.8,1207.48 700.6,1206.96 701.4,1207.93 702.2,1209.89 703,1207.78 703.8,1207.02 704.6,1209.31 705.4,1207.78 706.2,1209.01 707,1209.23 707.8,1207.5 708.6,1209.74 709.4,1210.19 710.2,1209.68 711,1210.64 711.8,1210.55 712.6,1210.42 713.4,1209.74 714.2,1211.84 715,1207.99 715.8,1211.99 716.6,1211.41 717.4,1212.4 718.2,1212 719,1212.71 719.8,1212.46 720.6,1212.61 721.4,1213.34 722.2,1211.51 723,1214 723.8,1211.95 724.6,1212.19 725.4,1212.33 726.2,1212.29 727,1213.14 727.8,1213.49 728.6,1214.5 729.4,1214.48 730.2,1213.93 731,1213.65 731.8,1214.33 732.6,1214.5 733.4,1214.5 734.2,1214.5 735,1214.5 735.8,1214.5 736.6,1214.5 737.4,1214.5" fill="none" stroke="#dd2222" stroke-width="1.3" stroke-linejoin="round" />
</g>
</svg>
</body></html>
